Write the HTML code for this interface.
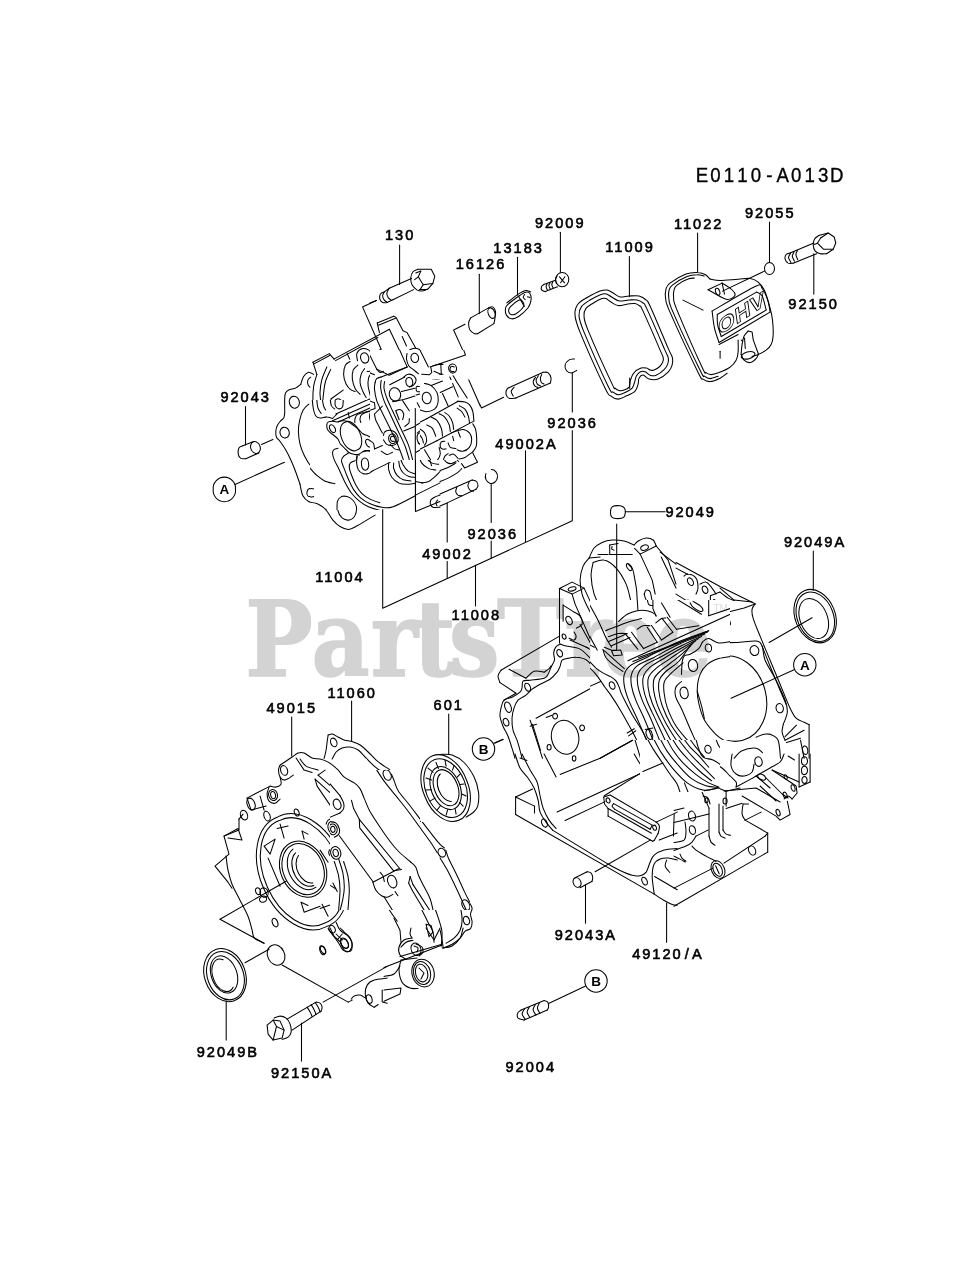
<!DOCTYPE html>
<html lang="en">
<head>
<meta charset="utf-8">
<title>E0110-A013D Cylinder/Crankcase parts diagram</title>
<style>
html,body{margin:0;padding:0;background:#fff}
body{width:979px;height:1280px;overflow:hidden}
svg{display:block;will-change:transform}
.wm{font-family:"Liberation Serif","DejaVu Serif",serif;font-weight:bold}
.lb{font-family:"Liberation Sans","DejaVu Sans",sans-serif;font-size:14.6px;letter-spacing:2px;fill:#000;stroke:#000;stroke-width:.6px}
.tt{font-family:"Liberation Sans","DejaVu Sans",sans-serif;font-size:20.5px;fill:#000;stroke:#000;stroke-width:.35px}
.cl{font-family:"Liberation Sans","DejaVu Sans",sans-serif;font-size:13.5px;font-weight:bold;text-anchor:middle;fill:#000}
.ln{fill:none;stroke:#000;stroke-width:1.05;stroke-linecap:round;stroke-linejoin:round}
</style>
</head>
<body>
<svg width="979" height="1280" viewBox="0 0 979 1280">
<rect width="979" height="1280" fill="#fff"/>
<g id="watermark" fill="#d3d3d3">
<text transform="scale(0.86 1)" font-family="'DejaVu Serif','Liberation Serif',serif" font-weight="bold" font-size="104.5" stroke="#d3d3d3" stroke-width="1.5" stroke-linejoin="round" y="676.3" x="285.1 362.3 431.2 481.0 522.1 577.9 656.4 700.0 761.6">PartsTree</text>
<text x="713.5" y="611.5" font-size="10" fill="#dcdcdc" font-family="'Liberation Sans',sans-serif">TM</text>
</g>
<clipPath id="cp-c1"><path clip-rule="evenodd" d="M0 0H979V1280H0ZM640 740V792H720V740ZM590 600V740H730V600Z"/></clipPath>
<g class="ln" id="c1" clip-path="url(#cp-c1)">
<path d="M589.1 558.1C589.9 556.4 591.9 550.7 594.1 548C596.3 545.4 599.1 543.8 602.1 542.4C605.1 541.1 608.5 540.3 612.1 540C615.8 539.8 620.5 540.2 624.1 541C627.8 541.9 632.5 544.4 634.2 545"/>
<path d="M634.2 545C634.8 544.4 636.2 542.2 638.2 541C640.2 539.9 643.7 538.2 646.2 538C648.7 537.9 651.5 538.7 653.2 540C654.8 541.4 655.7 545 656.2 546"/>
<path d="M648.3 546.3A4 2.4 -20 1 1 640.8 549A4 2.4 -20 1 1 648.3 546.3Z"/>
<path d="M656.2 546L640.2 554.1"/>
<path d="M640.2 554.1L634.6 548.4"/>
<path d="M609.7 545L609.7 554.5L632.2 554.5"/>
<path d="M598.1 554.5L608.1 554.5"/>
<path d="M612.1 546.4C612.1 546.9 611.4 548.4 611.7 549C612.1 549.6 613.7 549.9 614.1 550.1"/>
<path d="M609.7 545L618.1 543.6"/>
<path d="M589.1 558.1C588.1 559.4 584.6 562.4 583.1 566.1C581.6 569.7 580.3 575.4 580.1 580.1C579.9 584.8 580.8 589.4 582.1 594.1C583.4 598.8 585.8 603.4 588.1 608.1C590.4 612.8 593.6 618.1 596.1 622.1C598.6 626.1 602 630.5 603.1 632.1"/>
<path d="M593.1 562.5C592.8 564.7 590.9 570.8 591.1 576.1C591.3 581.3 592.3 588.4 594.1 594.1C595.9 599.8 599 605.6 602.1 610.1C605.3 614.6 611.3 619.3 613.1 621.1"/>
<path d="M593.1 562.5C594.9 562.1 600.3 559.1 604.1 560.1C608 561 612.5 564.1 616.1 568.1C619.8 572.1 623.7 578.7 626.1 584.1C628.5 589.4 629.8 597.4 630.6 600.1"/>
<path d="M628.1 564.1C628.9 564.9 631.5 566.7 632.6 569.1C633.6 571.4 633.9 574.6 634.6 578.1C635.2 581.6 636.1 585.8 636.6 590.1C637 594.4 637.2 601.8 637.4 604.1"/>
<path d="M630.8 565.9A2 4 -35 1 1 627.5 568.2A2 4 -35 1 1 630.8 565.9Z"/>
<path d="M589.1 558.1L600.1 557.1"/>
<path d="M640.2 554.1L652.2 580.1L655.2 594.1"/>
<path d="M644.2 594.1C644.5 595.1 645.2 598.4 646.2 600.1C647.2 601.8 649.5 603.4 650.2 604.1"/>
<path d="M644.2 594.1C644.5 593.4 645.2 590.4 646.2 590.1C647.2 589.8 649.1 589.8 650.2 592.1C651.2 594.4 652.2 602.1 652.6 604.1"/>
<path d="M660.2 552.1L676 564.1"/>
<path d="M656.2 546L668.2 560.1L676 584.1"/>
<path d="M661.2 557.1L676 588.1"/>
<path d="M559.5 588.5L572.1 582.1L584.1 588.1L572.1 594.1L559.5 588.5"/>
<path d="M559.5 588.5L559.5 643.1"/>
<path d="M572.1 594.1L575.1 604.1L597.1 654.2"/>
<path d="M584.1 588.1L602.5 628.1"/>
<path d="M576 587.9A4 2 -15 1 1 568.2 589.9A4 2 -15 1 1 576 587.9Z"/>
<path d="M563.1 605.1L563.1 621.1"/>
<path d="M563.1 605.1L574.1 612.1"/>
<path d="M571.6 619.3A2.8 4.4 -25 1 1 566.5 621.7A2.8 4.4 -25 1 1 571.6 619.3Z"/>
<path d="M565.8 635.9A1.8 2.6 -20 1 1 562.4 637.2A1.8 2.6 -20 1 1 565.8 635.9Z"/>
<path d="M574.1 612.1C575.1 612.8 578.8 614.1 580.1 616.1C581.4 618.1 582.7 622.1 582.1 624.1C581.5 626.1 577.4 627.5 576.5 628.1"/>
<path d="M580.1 624.5L595.7 652.6"/>
<path d="M586.1 647.1L595.7 652.6"/>
<path d="M569.1 638.1C569.9 638.5 572.9 640.5 574.1 640.1C575.3 639.8 576.1 637.5 576.1 636.1C576.1 634.8 574.4 632.8 574.1 632.1"/>
<path d="M570.1 640.1L588.1 648.1"/>
<path d="M560.1 644.1C559.3 644.6 556.7 645.6 555.7 647.1C554.6 648.6 553.9 651 553.7 653.2C553.5 655.3 554.9 657.8 554.5 660.2C554 662.5 552.1 664.8 551.1 667.2C550 669.5 549.2 672.3 548.1 674.2C546.9 676 547.1 677.2 544.1 678.2C541.1 679.2 533.6 679.7 530.1 680.2C526.5 680.7 524.4 679.8 523 681.2C521.7 682.5 522.5 686.4 522 688.2C521.5 690 521.7 690.7 520 692.2C518.4 693.7 514.7 695.9 512 697.2C509.4 698.5 505.9 698.4 504 700.2C502.2 702 501.7 705.5 501 708.2C500.4 710.9 499.7 713.2 500 716.2C500.4 719.2 501.7 722.9 503 726.2C504.4 729.6 506.5 732.6 508 736.2C509.5 739.9 510.9 744.6 512 748.2C513.2 751.9 514.5 756.6 515 758.3"/>
<path d="M568.1 658.2C567.1 658.5 563.4 658.8 562.1 660.2C560.7 661.5 560.9 664.2 560.1 666.2C559.2 668.2 558.7 670 557.1 672.2C555.4 674.3 552.9 677.2 550.1 679.2C547.2 681.2 543.1 682.5 540.1 684.2C537.1 685.9 534.4 687.4 532.1 689.2C529.7 691 528.4 693.4 526 695.2C523.7 697 520 698 518 700.2C516 702.4 515 705.2 514 708.2C513 711.2 512.2 714.5 512 718.2C511.9 721.9 512.2 726.6 513 730.2C513.9 733.9 515.9 736.9 517 740.2C518.2 743.6 519.2 747.2 520 750.3C520.9 753.3 521.7 756.9 522 758.3"/>
<path d="M568.1 658.2C569.4 658 573.1 656.9 576.1 657.2C579.1 657.4 583.1 657.9 586.1 659.8C589.1 661.6 591.4 665.4 594.1 668.2C596.8 670.9 599.5 674.2 602.1 676.2C604.8 678.2 607.6 679.3 610.1 680.2C612.6 681 615.5 679.8 617.1 681.2C618.8 682.5 619.6 687 620.1 688.2"/>
<path d="M560.1 644.1C561.1 644.5 562.7 645.3 566.1 646.1C569.4 647 575.8 646.8 580.1 649.1C584.4 651.5 588.8 656.7 592.1 660.2C595.4 663.7 597.5 667.5 600.1 670.2C602.8 672.8 606.8 675.2 608.1 676.2"/>
<path d="M562 652.1A2.6 3.6 -25 1 1 557.3 654.3A2.6 3.6 -25 1 1 562 652.1Z"/>
<path d="M530 686.1A2.6 4 -25 1 1 525.3 688.3A2.6 4 -25 1 1 530 686.1Z"/>
<path d="M510.8 706.2A3 4.8 -20 1 1 505.2 708.2A3 4.8 -20 1 1 510.8 706.2Z"/>
<path d="M508.5 721.3A2.6 4 -20 1 1 503.6 723.1A2.6 4 -20 1 1 508.5 721.3Z"/>
<path d="M614.5 684.7A2.6 4 -25 1 1 609.8 686.9A2.6 4 -25 1 1 614.5 684.7Z"/>
<path d="M559.5 636.1L501 670.2"/>
<path d="M501 670.2C500.5 671.2 498.2 674.1 498 676.2C497.9 678.2 499.7 681.5 500 682.6"/>
<path d="M500 682.6L516 693.2"/>
<path d="M509 669.2L526 678.2"/>
<path d="M526 678.2C527.4 677 531.1 672.2 534.1 671.2C537.1 670.2 542.4 672 544.1 672.2"/>
<path d="M544.1 672.2C544.9 671.6 547.9 669.6 549.1 668.6C550.2 667.5 550.7 666.2 551.1 665.8"/>
<path d="M504 700.2L516 693.2"/>
<path d="M676 645.1C673.4 646.3 666.2 649.3 660.2 652.2C654.2 655 645.5 659.2 640.2 662.2C634.8 665.2 630.8 667.5 628.1 670.2C625.5 672.8 624.5 674.5 624.1 678.2C623.8 681.8 624.1 685.2 626.1 692.2C628.1 699.2 632.2 709.2 636.2 720.2C640.2 731.2 647.8 751.9 650.2 758.3"/>
<path d="M676 649.1C673.4 650.5 665.5 654.3 660.2 657.2C654.9 660 648.5 663.3 644.2 666.2C639.8 669 636.3 671.5 634.2 674.2C632 676.8 631.2 678.2 631.2 682.2C631.2 686.2 631.7 690.2 634.2 698.2C636.7 706.2 642.5 720.2 646.2 730.2C649.8 740.2 654.5 753.6 656.2 758.3"/>
<path d="M676 654.2C673.7 655.3 666.8 658.5 662.2 661.2C657.5 663.8 651.8 667.3 648.2 670.2C644.5 673 641.8 675.2 640.2 678.2C638.5 681.2 637.8 683.5 638.2 688.2C638.5 692.9 639.8 699.2 642.2 706.2C644.5 713.2 648.8 721.6 652.2 730.2C655.5 738.9 660.5 753.6 662.2 758.3"/>
<path d="M676 659.2C674 660.2 668.2 662.7 664.2 665.2C660.2 667.7 655.2 671.3 652.2 674.2C649.2 677 647.3 679.2 646.2 682.2C645 685.2 644.7 687.5 645.2 692.2C645.7 696.9 647 703.5 649.2 710.2C651.3 716.9 655.2 724.2 658.2 732.2C661.2 740.2 665.7 753.9 667.2 758.3"/>
<path d="M676 664.2C674.4 665.2 669.5 667.8 666.2 670.2C662.9 672.5 658.5 675.5 656.2 678.2C653.8 680.8 652.9 683.2 652.2 686.2C651.4 689.2 651.3 691.9 651.8 696.2C652.3 700.5 653.1 705.9 655.2 712.2C657.2 718.6 661.3 726.6 664.2 734.2C667 741.9 670.9 754.3 672.2 758.3"/>
<path d="M676 670.2C674.7 671 670.7 673.2 668.2 675.2C665.7 677.2 662.8 679.7 661.2 682.2C659.5 684.7 658.7 687.2 658.2 690.2C657.7 693.2 657.7 696.2 658.2 700.2C658.7 704.2 659.3 708.5 661.2 714.2C663 719.9 666.5 727.9 669.2 734.2C671.9 740.6 675.9 749.2 677.2 752.3"/>
<path d="M676 676.2C675 677 671.8 679.2 670.2 681.2C668.6 683.2 667 685.4 666.2 688.2C665.4 691 665 694.2 665.2 698.2C665.4 702.2 665.2 706.4 667.2 712.2C669.2 718.1 675.5 729.7 677.2 733.2"/>
<path d="M676 684.2C675.4 685.2 673.2 687.5 672.6 690.2C672 692.9 671.4 695.9 672.2 700.2C673 704.5 676.4 713.5 677.2 716.2"/>
<path d="M611.1 650.2L620.1 650.2L620.1 655.4L611.1 655.4L611.1 650.2"/>
<path d="M602.5 649.1C603.5 650.7 605.2 655.3 608.1 658.2C611.1 661 617 664.1 620.1 666.2C623.3 668.2 626 669.8 627.1 670.6"/>
<path d="M604.1 648.1L620.1 640.5"/>
<path d="M605.1 652.2L610.1 649.7"/>
<path d="M620.1 620.1C622.1 619.2 628.1 615.8 632.2 614.5C636.2 613.2 640.8 611.8 644.2 612.1C647.6 612.4 651.2 615.4 652.6 616.1"/>
<path d="M652.6 616.1L676 629.1"/>
<path d="M628.1 628.1L640.2 650.2"/>
<path d="M636.2 624.1L650.2 644.5"/>
<path d="M608.1 628.1L624.1 620.5"/>
<path d="M610.1 634.5L620.5 630.1"/>
<path d="M608.1 640.5L624.5 632.5"/>
<path d="M620.1 640.5L632.2 636.1L640.2 650.2L628.1 658.2"/>
<path d="M632.2 616.1L652.2 640.1L676 628.1"/>
<path d="M644.2 620.1L660.2 638.1"/>
<path d="M628.1 658.2L676 638.1"/>
<path d="M630.2 662.2L676 641.1"/>
<path d="M536.1 718.2L600.1 683.2"/>
<path d="M600.1 683.2L608.1 692.6"/>
<path d="M608.1 692.6L632.6 732.2"/>
<path d="M530.1 720.2L542.5 758.3"/>
<path d="M532.5 724.2L540.5 750.3"/>
<path d="M530.1 726.2L536.5 724.2"/>
<path d="M578.4 734.4A13.6 17 -12 1 1 551.8 740.1A13.6 17 -12 1 1 578.4 734.4Z"/>
<path d="M557.5 716.2A2.4 2.8 0 1 1 552.7 716.2A2.4 2.8 0 1 1 557.5 716.2Z"/>
<path d="M584.5 727.8A2.4 2.8 0 1 1 579.7 727.8A2.4 2.8 0 1 1 584.5 727.8Z"/>
<path d="M551.1 747.2A2 2.8 0 1 1 547.1 747.2A2 2.8 0 1 1 551.1 747.2Z"/>
<path d="M546.1 717.4L552.1 715.2"/>
<path d="M600.1 758.3L632.6 740.2"/>
<path d="M626.1 732.6L634.6 730.2"/>
<path d="M632.6 732.2L640.6 758.3"/>
<path d="M651.7 734.7A2.8 5 -25 1 1 646.6 737A2.8 5 -25 1 1 651.7 734.7Z"/>
<path d="M644.2 730.2L654.2 728.2"/>
<path d="M646.2 742.2L656.2 740.2"/>
<path d="M606.1 692.2L608.1 698.2"/>
<path d="M494 743.2L503 739.2"/>
</g>
<clipPath id="cp-c2"><path clip-rule="evenodd" d="M0 0H979V1280H0ZM640 740V792H720V740ZM590 600V740H730V600Z"/></clipPath>
<g class="ln" id="c2" clip-path="url(#cp-c2)">
<path d="M813.3 551.1L813.3 590.1"/>
<path d="M833.7 608.6A20 27.6 -22 1 1 796.6 623.6A20 27.6 -22 1 1 833.7 608.6Z"/>
<path d="M832 610A18 25.6 -22 1 1 798.6 623.5A18 25.6 -22 1 1 832 610Z"/>
<path d="M826.4 613.4A13.6 20.8 -22 1 1 801.1 623.6A13.6 20.8 -22 1 1 826.4 613.4Z"/>
<path d="M812.1 617.7L769.1 642.5"/>
<path d="M794.1 669.8L731.1 698.2"/>
<path d="M764.9 689.7A34.4 43.2 -15 1 1 698.4 707.5A34.4 43.2 -15 1 1 764.9 689.7Z"/>
<path d="M685 655.2C686.8 653.5 692.5 647.8 696 645.1C699.5 642.5 702.4 639.6 706 639.1C709.7 638.6 713 641.6 718 642.1C723 642.7 729.7 642.7 736.1 642.5C742.4 642.4 751.7 640.5 756.1 641.1C760.4 641.7 760.6 643 762.1 646.1C763.6 649.3 762.8 654.5 765.1 660.2C767.4 665.8 772.8 673.5 776.1 680.2C779.4 686.9 783.2 694.9 785.1 700.2C787 705.5 787.6 708.2 787.3 712.2C787 716.2 784 722.2 783.3 724.2"/>
<path d="M685 655.2C684.7 657.7 683.5 666 683 670.2C682.5 674.3 683.2 677.3 682 680.2C680.8 683 677 686 676 687.2"/>
<path d="M711.5 647.3A3.2 4 -15 1 1 705.3 649A3.2 4 -15 1 1 711.5 647.3Z"/>
<path d="M758.7 649.4A4.4 5 -15 1 1 750.2 651.7A4.4 5 -15 1 1 758.7 649.4Z"/>
<path d="M697.3 664.6A4.4 5.2 -15 1 1 688.8 666.9A4.4 5.2 -15 1 1 697.3 664.6Z"/>
<path d="M687.9 692.8A4 5 -15 1 1 680.1 694.8A4 5 -15 1 1 687.9 692.8Z"/>
<path d="M783.2 707.3A3.6 4.6 -15 1 1 776.2 709.1A3.6 4.6 -15 1 1 783.2 707.3Z"/>
<path d="M710.9 748.5A3 3.6 -15 1 1 705.1 750A3 3.6 -15 1 1 710.9 748.5Z"/>
<path d="M698.4 660.2C699.7 659.8 705.4 656.5 706 658.2C706.6 659.8 702.7 668.2 702 670.2"/>
<path d="M755.1 604.1C754.6 604.9 752.4 606.8 752.1 609.1C751.7 611.4 751.7 613.6 753.1 618.1C754.4 622.6 757.2 629.1 760.1 636.1C762.9 643.1 766.8 652.2 770.1 660.2C773.4 668.2 776.8 676.2 780.1 684.2C783.4 692.2 787.4 702.5 790.1 708.2C792.8 713.9 793.8 715.9 796.1 718.2C798.5 720.6 802 721.2 804.1 722.2C806.3 723.3 808.3 724.2 809.1 724.6"/>
<path d="M809.1 724.6L809.1 758.3"/>
<path d="M762.1 646.1C763.4 649.5 767.1 658.8 770.1 666.2C773.1 673.5 777.4 683.9 780.1 690.2C782.8 696.5 785.1 701.9 786.1 704.2"/>
<path d="M676 562.5L720 586.5L755.1 603.7"/>
<path d="M676 568.1L688 574.5"/>
<path d="M692.7 580.4A2.6 4 -30 1 1 688.2 583A2.6 4 -30 1 1 692.7 580.4Z"/>
<path d="M707.4 588.6A2.6 3.6 -25 1 1 702.7 590.8A2.6 3.6 -25 1 1 707.4 588.6Z"/>
<path d="M715.8 602.3A1.4 2.4 -10 1 1 713.1 602.7A1.4 2.4 -10 1 1 715.8 602.3Z"/>
<path d="M684 576.1C684.7 575.7 686 573.7 688 574.1C690 574.4 694.4 575.7 696 578.1C697.7 580.4 698 585.4 698 588.1C698 590.8 696.4 593.1 696 594.1"/>
<path d="M700 584.1C701 583.8 704 581.4 706 582.1C708 582.7 710.4 586.1 712 588.1C713.7 590.1 715.4 593.1 716 594.1"/>
<path d="M710.4 595.7L710.4 616.5"/>
<path d="M710.4 595.7L720 592.1"/>
<path d="M720 592.1C721.4 593.1 725.6 596.7 728.1 598.1C730.5 599.5 733.4 600.1 734.5 600.5"/>
<path d="M710.4 616.5L744.1 608.1L755.1 604.1"/>
<path d="M720 588.1L734.1 600.1L752.1 602.1"/>
<path d="M676 630.1L728.1 617.1"/>
<path d="M676 625.3L706 618.1"/>
<path d="M728.1 617.1C728.5 618.3 730.8 622.3 730.5 624.1C730.1 626 726.8 627.5 726.1 628.1"/>
<path d="M676 648.5L726.1 627.3"/>
<path d="M676 649.7L724 629.3"/>
<path d="M676 644.1L702 633.3"/>
<path d="M688 600.1C687.7 600.5 685.9 601.6 686 602.5C686.1 603.4 688 604.8 688.4 605.3"/>
<path d="M688 600.1L702 608.1"/>
<path d="M688.4 605.3L702 612.5"/>
<path d="M676 594.1L710 615.1"/>
<path d="M785.1 740.2L804.1 730.2"/>
<path d="M785.1 736.6L796.5 725.2"/>
<path d="M786.5 742.6L800.5 738.2"/>
<path d="M807.7 749.8A2.6 4 -10 1 1 802.6 750.7A2.6 4 -10 1 1 807.7 749.8Z"/>
<path d="M783.3 724.2C783.1 725.6 781.8 729.6 782.1 732.2C782.4 734.9 784.6 738.9 785.1 740.2"/>
<path d="M800.5 740.2L804.1 758.3"/>
<path d="M734.1 758.3C735.4 757 738.4 752.3 742.1 750.7C745.7 749 752.7 747.9 756.1 748.2C759.5 748.6 761.4 751.9 762.5 752.7"/>
<path d="M770.1 734.2C771.4 735.2 776.4 736.2 778.1 740.2C779.8 744.2 780.1 755.3 780.5 758.3"/>
<path d="M676 728.2L684.4 758.3"/>
<path d="M680.4 726.2L688.4 758.3"/>
<path d="M698.4 758.3C698.8 756.6 699.5 750.6 700.4 748.2C701.4 745.9 703.4 744.9 704 744.2"/>
<path d="M756.1 737.2C757.4 736.7 761.8 734.7 764.1 734.2C766.4 733.7 769.1 734.2 770.1 734.2"/>
</g>
<clipPath id="cp-c3"><path clip-rule="evenodd" d="M0 0H979V1280H0ZM640 740V792H720V740Z"/></clipPath>
<g class="ln" id="c3" clip-path="url(#cp-c3)">
<path d="M515 754C515.9 756.3 517.9 764 520 768C522.2 772 525.7 774.7 528 778C530.4 781.4 532.4 784.4 534.1 788C535.7 791.7 537.1 796 538.1 800C539.1 804 538.7 808.4 540.1 812.1C541.4 815.7 544 819.1 546.1 822.1C548.1 825.1 551.4 828.7 552.5 830.1"/>
<path d="M522 754C523.4 756.7 527.5 765.3 530.1 770C532.6 774.7 535.4 777.7 537.1 782C538.7 786.4 539.1 791.7 540.1 796C541.1 800.4 541.6 804 543.1 808.1C544.6 812.1 546.9 816.7 549.1 820.1C551.2 823.5 554.9 827.1 556.1 828.5"/>
<path d="M552.5 830.1L608.1 864.1"/>
<path d="M608.1 864.1C610.1 865.2 616.1 868.6 620.1 870.5C624.1 872.4 628.8 874.5 632.2 875.3C635.5 876.2 637.8 876.3 640.2 875.7C642.5 875.2 644.5 874.4 646.2 872.1C647.8 869.8 648.8 864.9 650.2 862.1C651.5 859.3 651.8 857.1 654.2 855.1C656.5 853.1 660.3 851.2 664.2 850.1C668 849 675 848.8 677.2 848.5"/>
<path d="M546.8 822A2.6 4 -25 1 1 542.1 824.2A2.6 4 -25 1 1 546.8 822Z"/>
<path d="M646.7 880.1A2.4 3.6 -25 1 1 642.4 882.1A2.4 3.6 -25 1 1 646.7 880.1Z"/>
<path d="M515.6 797L532.5 789"/>
<path d="M515.6 797L515.6 814.5"/>
<path d="M515.6 797L534.5 806.1"/>
<path d="M534.5 806.1L534.5 813.1"/>
<path d="M515.6 814.5L654.2 894.1"/>
<path d="M654.2 894.1C655.8 895.2 661.2 898.8 664.2 900.5C667.2 902.3 670 903.7 672.2 904.5C674.4 905.3 676.4 905.2 677.2 905.3"/>
<path d="M654.2 894.1C653.8 891.1 652.2 881.1 652.2 876.1C652.2 871.1 652.8 866.9 654.2 864.1C655.5 861.3 657.8 860.1 660.2 859.1C662.5 858.1 665.4 857.9 668.2 858.1C671 858.3 675.7 859.8 677.2 860.1"/>
<path d="M654.6 876.5L677.2 889.7"/>
<path d="M666.6 860.1C666.4 861.1 664.7 864 665.2 866.1C665.7 868.2 669 871.4 669.8 872.5"/>
<path d="M557.1 812.1L661.2 764"/>
<path d="M565.1 820.5L605.1 801.6"/>
<path d="M560.1 774.4L600.1 758.2L632.6 740.2"/>
<path d="M544.1 754L556.1 777"/>
<path d="M575.9 758.4A1.8 2.6 0 1 1 572.3 758.4A1.8 2.6 0 1 1 575.9 758.4Z"/>
<path d="M520 758L527 760.4"/>
<path d="M603.7 797L610.1 795L656.2 822.1"/>
<path d="M656.2 822.1C656.7 822.7 659 824.2 659.4 826.1C659.7 827.9 658.4 832.1 658.2 833.3"/>
<path d="M658.2 833.3L654.2 840.5"/>
<path d="M603.7 797L604.5 804L608.1 808.5"/>
<path d="M608.1 808.5L608.1 816.1"/>
<path d="M608.1 816.1L652.6 841.3"/>
<path d="M608.1 808.5L651.4 833.3"/>
<path d="M613.7 803.6L652.2 825.1"/>
<path d="M614.5 809.1L650.2 829.3"/>
<path d="M613.7 803.6C613.5 804 612 805.1 612.1 806.1C612.3 807 614.1 808.6 614.5 809.1"/>
<path d="M650.2 829.3L652.2 825.1"/>
<path d="M609.8 799.8A1.8 2.6 -20 1 1 606.4 801.1A1.8 2.6 -20 1 1 609.8 799.8Z"/>
<path d="M656.3 827.1A1.8 2.6 -20 1 1 652.9 828.3A1.8 2.6 -20 1 1 656.3 827.1Z"/>
<path d="M652.6 841.3L654.2 840.5"/>
<path d="M595.1 871.7L650.2 840.1"/>
<path d="M580.5 880.9A3.8 5 -25 1 1 573.6 884.1A3.8 5 -25 1 1 580.5 880.9Z"/>
<path d="M575.1 877.7L587.1 871.7"/>
<path d="M580.1 887.7L592.1 881.3"/>
<path d="M587.1 871.7C587.8 871.9 590.2 872.2 591.1 873.1C592 874 592.5 875.8 592.7 877.1C592.9 878.5 592.2 880.6 592.1 881.3"/>
<path d="M585.5 885.1L585.5 923.2"/>
<path d="M666.6 903.1L666.6 942.2"/>
<path d="M585.1 986.2L549.1 1003.2"/>
<path d="M634.2 754C635.2 755.7 638.1 761.3 640.2 764C642.2 766.7 645.5 769 646.6 770"/>
<path d="M646.6 770L661.2 764"/>
<path d="M660.2 754C660.8 755.7 661.3 759.7 664.2 764C667 768.3 675 777.4 677.2 780"/>
<path d="M656.2 822.1L677.2 812.1"/>
<path d="M659.2 840.1L677.2 833.1"/>
<path d="M674.2 814.1L673.4 836.1"/>
<path d="M604.3 795.8L640.2 773.4"/>
</g>
<clipPath id="cp-c4"><path clip-rule="evenodd" d="M0 0H979V1280H0ZM640 740V792H720V740Z"/></clipPath>
<g class="ln" id="c4" clip-path="url(#cp-c4)">
<path d="M674 888.1L713 868.1"/>
<path d="M724 863.1L765.1 836.1"/>
<path d="M767.7 833.1L767.7 852.1"/>
<path d="M674 906.2L767.7 852.1"/>
<path d="M745.1 820.1L767.7 833.1"/>
<path d="M765.1 836.1L767.7 833.1"/>
<path d="M743.1 804C742.9 805.7 741.7 811.4 742.1 814.1C742.4 816.7 744.6 819.1 745.1 820.1"/>
<path d="M745.1 820.1L761.1 812.1"/>
<path d="M743.1 804L748.5 804"/>
<path d="M755.2 849.1A3.4 4.8 -25 1 1 749 851.9A3.4 4.8 -25 1 1 755.2 849.1Z"/>
<path d="M723.8 866.8A6.4 9 -25 1 1 712.2 872.2A6.4 9 -25 1 1 723.8 866.8Z"/>
<path d="M721.5 867.9A4.2 6.8 -25 1 1 713.8 871.5A4.2 6.8 -25 1 1 721.5 867.9Z"/>
<path d="M715.6 865.7L719.2 873.7"/>
<path d="M724 791L756.1 788L780.1 802"/>
<path d="M726.1 808.5L742.1 803.2"/>
<path d="M742.1 796L776.1 816.1L780.1 820.1L790.1 814.5L787.3 801.2"/>
<path d="M784.1 799C784.8 798.5 786.8 796 788.1 796C789.4 796 791.4 798.5 792.1 799"/>
<path d="M766.1 778L782.1 794L788.1 798"/>
<path d="M772.1 770L796.1 786L797.1 793L792.1 799"/>
<path d="M779.8 812A1.8 3.4 -20 1 1 776.4 813.3A1.8 3.4 -20 1 1 779.8 812Z"/>
<path d="M786.8 794.4A1.8 3 -20 1 1 783.4 795.7A1.8 3 -20 1 1 786.8 794.4Z"/>
<path d="M794.8 787.4A1.8 3.4 -20 1 1 791.4 788.6A1.8 3.4 -20 1 1 794.8 787.4Z"/>
<path d="M787 776.5A1.4 2.2 -20 1 1 784.4 777.5A1.4 2.2 -20 1 1 787 776.5Z"/>
<path d="M760.1 786L776.1 801"/>
<path d="M756.1 776L770.1 788"/>
<path d="M799.1 754L799.1 787"/>
<path d="M810.1 754L810.1 782"/>
<path d="M799.1 787L810.1 782"/>
<path d="M807.5 761A3 4.2 0 1 1 801.5 761A3 4.2 0 1 1 807.5 761Z"/>
<path d="M807.5 770.4A3 4.2 0 1 1 801.5 770.4A3 4.2 0 1 1 807.5 770.4Z"/>
<path d="M807.1 780A2.6 3.4 0 1 1 801.9 780A2.6 3.4 0 1 1 807.1 780Z"/>
<path d="M772.1 770L799.1 782"/>
<path d="M788.1 756L794.5 760"/>
<path d="M762 760.7A3.6 4.8 -15 1 1 755 762.5A3.6 4.8 -15 1 1 762 760.7Z"/>
<path d="M732.1 754C731.9 756 730.4 762.7 731.1 766C731.7 769.3 733.9 772.3 736.1 774C738.2 775.7 741.4 776.4 744.1 776C746.7 775.7 750.4 774 752.1 772C753.7 770 753.7 765.3 754.1 764"/>
<path d="M784.1 754C783.4 755.3 782.4 759.7 780.1 762C777.8 764.3 774.1 765.7 770.1 768C766.1 770.3 759.1 774.3 756.1 776C753.1 777.8 752.7 778 752.1 778.4"/>
<path d="M763 774.8A2.6 4.2 -60 1 1 760.4 779.3A2.6 4.2 -60 1 1 763 774.8Z"/>
<path d="M736.1 787L752.1 778.4"/>
<path d="M702 754C703.7 755.3 708.7 759.7 712 762C715.4 764.3 719 765.7 722 768C725 770.3 727.7 773.7 730.1 776C732.4 778.4 735.1 780.2 736.1 782C737.1 783.9 736.1 786.2 736.1 787"/>
<path d="M674 774C676.3 775.4 683.3 780 688 782C692.7 784 697 785 702 786C707 787 715.4 787.7 718 788"/>
<path d="M674 784C676 784.7 681.7 787 686 788C690.3 789 695 789.8 700 790C705 790.2 713.4 789.4 716 789.2"/>
<path d="M674 764C676.3 765.7 683.3 771 688 774C692.7 777 697.4 780 702 782C706.7 784 713.7 785.4 716 786"/>
<path d="M718 788L726.1 791.2"/>
<path d="M702 792L709 808.1"/>
<path d="M703 796C703.9 796.4 706.9 796.7 708 798C709.2 799.4 709.7 803 710 804"/>
<path d="M708 800.4A1.6 2.4 0 1 1 704.8 800.4A1.6 2.4 0 1 1 708 800.4Z"/>
<path d="M709 808.1L709 836.1"/>
<path d="M709 836.1C709.4 837.1 710 840.6 711 842.1C712 843.6 714.4 844.8 715 845.3"/>
<path d="M719 804L719 832.1"/>
<path d="M719 832.1C719.4 832.7 720 835.1 721 836.1C722.1 837.1 724.5 837.7 725.2 838.1"/>
<path d="M723 806.1L723 830.1"/>
<path d="M723 830.1C723.5 830.7 724.8 833.2 726.1 834.1C727.3 834.9 729.7 835.1 730.5 835.3"/>
<path d="M727.1 801A2 3 0 1 1 723 801A2 3 0 1 1 727.1 801Z"/>
<path d="M726.1 791.2L726.1 806.1"/>
<path d="M726.1 791.2L740.1 788"/>
<path d="M674 810.5L684 808.1"/>
<path d="M695.3 815.2A3.4 5 -15 1 1 688.7 816.9A3.4 5 -15 1 1 695.3 815.2Z"/>
<path d="M695.3 829.3A3 4.4 -15 1 1 689.5 830.9A3 4.4 -15 1 1 695.3 829.3Z"/>
<path d="M674 822.5L709 814.1"/>
<path d="M696 836.1L708 830.1"/>
<path d="M674 842.5C675.7 842.1 682 841.8 684 840.1C686 838.3 685.8 835.1 686 832.1C686.2 829.1 685.2 823.7 685 822.1"/>
<path d="M674 850.5C676 849.8 683 847.5 686 846.1C689 844.7 690.3 843.8 692 842.1C693.7 840.4 695.4 837.1 696 836.1"/>
<path d="M674 856.1C675 856.6 678.1 858.1 680 859.1C681.9 860.1 684.3 861.6 685.2 862.1"/>
<path d="M692 846.1C692.7 846.8 693.7 848.4 696 850.1C698.4 851.8 702.7 854.2 706 856.1C709.4 858 714.4 860.4 716 861.3"/>
<path d="M680 854.1C680.3 854.8 681 856.9 682 858.1C683 859.3 685.3 860.8 686 861.3"/>
</g>
<clipPath id="cp-cf"><path clip-rule="evenodd" d="M640 740H720V792H640Z"/></clipPath>
<g class="ln" id="cf" clip-path="url(#cp-cf)">
<path d="M653.6 738.6C654.9 741 658.3 747.9 661.5 752.9C664.7 757.9 668.7 763.6 672.9 768.6C677.2 773.6 682.2 779.3 687.2 782.9C692.2 786.5 698.2 789.1 703 790.1C707.7 791 713.7 788.9 715.8 788.6"/>
<path d="M660.1 738.6C661.3 740.7 664.1 746.9 667.2 751.4C670.3 756 674.6 761.2 678.7 765.7C682.7 770.3 687 775.3 691.5 778.6C696.1 781.9 701.4 784.3 705.8 785.8C710.2 787.2 716 787.2 718 787.5"/>
<path d="M666.5 738.6C667.6 740.5 670.2 746 672.9 750C675.7 754.1 679.1 758.8 683 762.9C686.8 766.9 691.5 771 695.8 774.3C700.1 777.7 704.9 780.8 708.7 782.9C712.5 785 717 786.2 718.7 786.9"/>
<path d="M672.2 738.6C673.3 740.2 675.9 745 678.7 748.6C681.4 752.2 685.1 756.2 688.7 760C692.2 763.8 696.3 768 700.1 771.5C703.9 774.9 709.6 779.2 711.6 780.8"/>
<path d="M677.9 738.6C679 740 681.9 744.1 684.4 747.2C686.9 750.2 689.6 753.6 693 757.2C696.3 760.7 700.8 765 704.4 768.6C708 772.2 712.7 776.9 714.4 778.6"/>
<path d="M683.7 738.6C684.7 740 687.6 744.3 690.1 747.2C692.6 750 695.6 752.4 698.7 755.7C701.8 759.1 707 765.3 708.7 767.2"/>
<path d="M689.4 738.6C690.5 740 693.3 744.1 695.8 747.2C698.3 750.2 703 755.5 704.4 757.2"/>
<path d="M647.2 738.6C648.2 740.2 650.5 744.8 652.9 748.6C655.3 752.4 658.6 757.2 661.5 761.5C664.4 765.7 667.5 770.5 670.1 774.3C672.7 778.1 675.3 780.5 677.2 784.3C679.1 788.1 680.8 795.1 681.5 797.2"/>
<path d="M684.4 782.9C685.3 785.3 688.2 792.4 690.1 797.2C692 802 694.9 809.1 695.8 811.5"/>
<path d="M711.1 748.7A3.1 4 -10 1 1 704.9 749.8A3.1 4 -10 1 1 711.1 748.7Z"/>
<path d="M695.8 738.6C696.3 740.2 697.5 745.5 698.7 748.6C699.9 751.7 700.6 755.3 703 757.2C705.4 759.1 709.9 758.6 713 760C716.1 761.5 719.2 763.4 721.6 765.7C723.9 768.1 725.7 771.5 727.3 774.3C728.8 777.2 730.3 781.5 730.9 782.9"/>
<path d="M715.8 738.6C716.3 739.8 717.3 743.6 718.7 745.7C720.1 747.9 722.4 750 724.4 751.4C726.4 752.9 729.8 753.8 730.9 754.3"/>
<path d="M642.9 771.5L662.9 762.9"/>
<path d="M704.4 790.8L718.7 787.9"/>
<path d="M718.7 787.9L730.9 792.9"/>
</g>
<clipPath id="cp-cm"><path clip-rule="evenodd" d="M590 600H730V740H590Z"/></clipPath>
<g class="ln" id="cm" clip-path="url(#cp-cm)">
<path d="M611.5 650.8L620.7 650.1L622.2 655.1L613.6 655.8L611.5 650.8"/>
<path d="M625.8 634.3L637.9 649.3"/>
<path d="M631.5 632.2L643.6 648.6"/>
<path d="M647.2 627.2L657.2 642.2"/>
<path d="M651.5 625.5L661.5 640"/>
<path d="M662.2 618.6L672.9 632.2"/>
<path d="M667.2 617.2L676.5 629.3"/>
<path d="M605.7 630.7C607.9 629.9 614.5 627.3 618.6 625.7C622.7 624.2 626.2 622.6 630 621.5C633.9 620.3 639.6 619.1 641.5 618.6"/>
<path d="M608.6 636.5C610.3 636 615.5 634.1 618.6 633.6C621.7 633.1 625.8 633.6 627.2 633.6"/>
<path d="M637.2 629.3C638.1 628.7 640.8 626.3 642.9 625.7C645.1 625.1 648.9 625.7 650.1 625.7"/>
<path d="M655.8 622.9C656.7 622.2 659.8 619.4 661.5 618.6C663.2 617.8 665.1 618 665.8 617.9"/>
<path d="M643.6 648.6L657.2 642.2"/>
<path d="M661.5 640L672.9 632.2"/>
<path d="M676.5 629.3L698.7 625.7"/>
<path d="M618.6 621.5C620 620.3 624.1 616.1 627.2 614.3C630.3 612.5 633.9 611.3 637.2 610.7C640.5 610.1 644.3 610.2 647.2 610.7C650.1 611.2 652.9 612.7 654.4 613.6C655.8 614.5 655.8 615.6 656.1 616"/>
<path d="M652.9 598.6L652.9 608.6L656.1 616"/>
<path d="M637.2 598.6L637.9 610"/>
<path d="M647.2 598.6C647.4 599.5 647.7 603.1 648.6 604.3C649.6 605.5 652.2 605.5 652.9 605.7"/>
<path d="M602.9 649.3C603.3 650.6 604.1 654.7 605.7 657.2C607.4 659.7 610 662 612.9 664.4C615.7 666.7 621.2 670.3 622.9 671.5"/>
<path d="M604.3 647.2C605.5 647.7 609.4 649.6 611.5 650.1C613.5 650.5 615.6 650.1 616.5 650.1"/>
<path d="M603.6 650.1L624.3 668.6"/>
<path d="M588.6 634.3L597.2 650.1"/>
<path d="M588.6 644.3L594.3 647.2"/>
<path d="M588.6 602.9C590.2 606 595.7 615.7 598.6 621.5C601.4 627.2 603.6 632.9 605.7 637.2C607.9 641.5 610.5 645.5 611.5 647.2"/>
<path d="M608.6 641.5L625.8 634.3"/>
<path d="M611.5 645.8L630 637.5"/>
<path d="M627.9 660.8L730.9 614"/>
<path d="M632.9 661.5L708.7 630.7"/>
<path d="M638.6 657.5L707.3 632.3"/>
<path d="M708.7 630.7C703.2 632.8 686 638.5 675.8 642.9C665.6 647.3 654.8 653.4 647.2 657.2C639.6 661 633.9 662.9 630 665.8C626.2 668.6 625.3 671 624.3 674.4C623.4 677.7 623.6 681.5 624.3 685.8C625 690.1 626.5 694.6 628.6 700.1C630.8 705.6 634.1 711.8 637.2 718.7C640.3 725.6 645.5 737.8 647.2 741.6"/>
<path d="M704.4 634.3C700.1 636 687 640.5 678.7 644.3C670.3 648.1 661.3 653.6 654.4 657.2C647.4 660.8 641 662.9 637.2 665.8C633.4 668.6 632.4 671 631.5 674.4C630.5 677.7 630.8 681.5 631.5 685.8C632.2 690.1 633.6 694.6 635.8 700.1C637.9 705.6 641.4 711.8 644.3 718.7C647.3 725.6 652.1 737.8 653.6 741.6"/>
<path d="M701.5 636.5C698.2 638 688.4 642.3 681.5 645.8C674.6 649.2 666.3 653.9 660.1 657.2C653.9 660.5 648 662.9 644.3 665.8C640.6 668.6 639 671 637.9 674.4C636.8 677.7 637.2 681.5 637.9 685.8C638.6 690.1 640.1 694.6 642.2 700.1C644.3 705.6 647.8 711.8 650.8 718.7C653.8 725.6 658.5 737.8 660.1 741.6"/>
<path d="M698.7 638.6C696.3 639.9 689.9 643.4 684.4 646.5C678.9 649.6 671.5 653.7 665.8 657.2C660.1 660.7 653.8 664.1 650.1 667.2C646.4 670.3 644.8 672.5 643.6 675.8C642.5 679.1 642.6 682.9 643.2 687.2C643.8 691.5 645.1 696 647.2 701.5C649.3 707 652.7 713.4 655.8 720.1C658.9 726.8 664.1 738 665.8 741.6"/>
<path d="M695.8 640.8C694.2 641.9 690.1 644.9 685.8 647.9C681.5 650.9 675.1 655.2 670.1 658.6C665.1 662.1 659.4 665.5 655.8 668.6C652.2 671.7 649.9 673.9 648.6 677.2C647.4 680.6 647.7 684.4 648.3 688.7C648.9 693 650.1 697.5 652.2 703C654.3 708.4 657.6 715.1 660.8 721.6C664 728 669.7 738.2 671.5 741.6"/>
<path d="M693 642.9C692 644 690.3 646.5 687.2 649.3C684.1 652.2 678.7 656.6 674.4 660.1C670.1 663.5 664.9 667 661.5 670.1C658.1 673.2 655.4 675.3 654.1 678.7C652.8 682 653.1 685.8 653.6 690.1C654.2 694.4 655.2 698.9 657.2 704.4C659.2 709.9 662.5 716.8 665.8 723C669.1 729.2 675.3 738.5 677.2 741.6"/>
<path d="M690.1 645.8C688.2 648.4 682.7 657.2 678.7 661.5C674.6 665.8 669 668.4 665.8 671.5C662.6 674.6 660.5 676.7 659.4 680.1C658.2 683.4 658.4 687.2 658.9 691.5C659.4 695.8 660.2 700.3 662.2 705.8C664.2 711.3 667.3 718.5 670.8 724.4C674.3 730.4 680.9 738.7 683 741.6"/>
<path d="M683 662.9C681 664.6 674.6 669.8 671.5 672.9C668.4 676 665.6 678.2 664.4 681.5C663.1 684.8 663.6 688.7 664.1 693C664.6 697.2 665.3 701.8 667.2 707.3C669.2 712.7 672.2 720.1 675.8 725.8C679.4 731.6 686.5 738.9 688.7 741.6"/>
<path d="M730.9 641.5C728.8 641.7 722.4 643.4 718.7 642.9C715 642.4 711.3 638.8 708.7 638.6C706.1 638.4 704.6 639.8 703 641.5C701.3 643.1 700.8 646.5 698.7 648.6C696.5 650.8 692.5 653.1 690.1 654.3C687.7 655.5 685.7 654.6 684.4 655.8C683.1 657 682.7 658.4 682.2 661.5C681.8 664.6 681.6 672.2 681.5 674.4"/>
<path d="M681.5 681.5C680.6 682.5 676.8 684.6 675.8 687.2C674.8 689.9 674.8 693.7 675.8 697.2C676.8 700.8 679.1 703.4 681.5 708.7C683.9 713.9 687.7 723.2 690.1 728.7C692.5 734.2 694.9 739.4 695.8 741.6"/>
<path d="M730.9 656.5C728.8 656.8 722.6 657.3 718.7 658.6C714.8 659.9 710.4 661.7 707.3 664.4C704.2 667 701.8 670.3 700.1 674.4C698.4 678.4 697.5 683.9 697.3 688.7C697 693.4 697.5 697.7 698.7 703C699.9 708.2 701.5 714.9 704.4 720.1C707.3 725.4 712.3 730.8 715.8 734.4C719.4 738 724.2 740.4 725.9 741.6"/>
<path d="M697.3 691.5C698 693.9 700.3 701.3 701.5 705.8C702.7 710.3 703.9 716.5 704.4 718.7"/>
<path d="M711.5 647.4A3.1 4 -10 1 1 705.3 648.5A3.1 4 -10 1 1 711.5 647.4Z"/>
<path d="M697.5 664.7A4.6 5.4 -10 1 1 688.5 666.3A4.6 5.4 -10 1 1 697.5 664.7Z"/>
<path d="M688 692.3A4 5.1 -10 1 1 680.2 693.6A4 5.1 -10 1 1 688 692.3Z"/>
<path d="M588.6 660.6C589.8 661.8 593.3 665.7 595.7 667.8C598.1 669.8 600.3 671.4 602.9 672.9C605.4 674.5 608.8 675.6 611 676.9C613.2 678.3 614.8 679.4 616.2 681.1C617.5 682.8 618.3 685.2 619.2 687.2C620 689.3 620.3 691 621.3 693.4C622.3 695.8 623.3 697.6 625.3 701.5C627.3 705.4 630.7 712.1 633.5 716.8C636.2 721.6 639.5 726 641.8 730C644.1 734 646.3 739 647.2 740.9"/>
<path d="M587.6 665.8C588.8 667 592.5 670.4 594.7 672.9C596.9 675.5 599.2 678.7 600.9 681.1C602.6 683.5 603.2 684.8 604.9 687.2C606.6 689.6 608.3 691.3 611 695.4C613.8 699.5 617.9 705.9 621.3 711.7C624.7 717.5 628.8 725.1 631.5 730C634.1 734.8 636.2 739 637.2 740.9"/>
<path d="M588.6 686.9L600.7 681.5"/>
<path d="M614.5 684.4A2.6 3.7 -25 1 1 609.8 686.6A2.6 3.7 -25 1 1 614.5 684.4Z"/>
<path d="M627.2 733L634.3 728.7"/>
<path d="M628.6 735.9L635.8 730.8"/>
<path d="M652 733.4A2.9 4.3 -20 1 1 646.7 735.4A2.9 4.3 -20 1 1 652 733.4Z"/>
<path d="M645.1 729.4L652.9 728"/>
<path d="M708.7 598.6L708.7 615.7"/>
<path d="M708.7 615.7L730.9 608.3"/>
<path d="M690.1 602.9C690.6 603.6 691.3 605.7 693 607.2C694.6 608.6 698.4 611 700.1 611.4C701.8 611.9 703 611 703 610C703 609.1 701.8 607.2 700.1 605.7C698.4 604.3 694.2 602.1 693 601.4"/>
<path d="M675.8 598.6L701.5 614.3"/>
<path d="M661.5 602.9L670.1 617.2"/>
</g>
<clipPath id="cp-g1"><path clip-rule="evenodd" d="M0 0H979V1280H0ZM310 400V510H370V400ZM370 460V510H415V460Z"/></clipPath>
<g class="ln" id="g1" clip-path="url(#cp-g1)">
<path d="M245.5 406.5L245.5 445.1"/>
<path d="M242.9 445.8C242.2 446.1 239.7 446.5 238.9 447.9C238.1 449.4 238 452.6 238.3 454.4C238.6 456.1 239.5 457.7 240.8 458.4C242 459.1 244.9 458.6 245.8 458.7"/>
<path d="M242.9 445.8L253.6 441.5"/>
<path d="M245.8 458.7L258.9 452.9"/>
<path d="M259.9 445.9A4.7 6 -20 1 1 251 449.1A4.7 6 -20 1 1 259.9 445.9Z"/>
<path d="M261.5 444.4L272.9 439.4"/>
<path d="M235.5 489.4A11.2 11.2 0 1 1 213.2 489.4A11.2 11.2 0 1 1 235.5 489.4Z"/>
<path d="M235 484.4L284.4 462.2"/>
<path d="M300.8 384.3C300 384.9 297.8 386.9 295.8 387.9C293.8 388.8 290.4 389.2 288.7 390C286.9 390.9 286.2 391.5 285.5 392.9C284.8 394.3 284.8 395.3 284.7 398.6C284.5 401.9 284.8 409.7 284.7 412.9C284.5 416.1 284.4 416.5 283.7 417.9C282.9 419.3 281.2 420.2 280.1 421.5C279 422.8 277.9 424.1 277.2 425.8C276.5 427.4 275.9 429.6 275.8 431.5C275.7 433.4 275.8 435.5 276.5 437.2C277.2 438.9 278.5 439.4 280.1 441.5C281.6 443.6 283.9 446.7 285.8 450.1C287.7 453.4 289.8 457.7 291.5 461.5C293.2 465.3 294.7 469.1 296.1 473C297.5 476.8 299.4 482.5 300.1 484.4"/>
<path d="M299.2 400.9A5 6 -15 1 1 289.5 403.5A5 6 -15 1 1 299.2 400.9Z"/>
<path d="M289.1 431.4A4.6 5.4 -15 1 1 280.2 433.8A4.6 5.4 -15 1 1 289.1 431.4Z"/>
<path d="M309 404C308 405 304.8 407.4 303.2 410C301.7 412.7 300.5 416.5 299.7 420.1C298.9 423.6 298.3 427.4 298.4 431.5C298.5 435.5 299.1 440.3 300.1 444.4C301.1 448.4 302.5 452 304.4 455.8C306.3 459.6 308.7 463.7 311.5 467.2C314.4 470.8 317.7 474.5 321.6 477.3C325.4 480 332.3 482.6 334.4 483.7"/>
</g>
<g class="ln" id="gk">
<path d="M575 314.4C574.7 309.8 575.8 306.9 578 304C580.2 301.1 584.4 299.2 588 297C591.7 294.9 596.9 292.2 600 291C603.2 289.9 604.9 289.7 607 290C609.2 290.4 610.9 291.9 613.1 293C615.2 294.2 617.4 296.5 620.1 297C622.7 297.5 625.9 296.2 629.1 296C632.2 295.9 636.2 295.4 639.1 296C641.9 296.7 644.2 298.2 646.1 300C648 301.9 646.8 299 650.5 307C654.2 315 664.4 339.6 668.1 348.1C671.8 356.6 671.8 355.3 672.5 358.1C673.2 360.9 672.8 362.8 672.1 365.1C671.4 367.4 670.4 369.8 668.1 372.1C665.8 374.4 661.3 377.9 658.1 379.1C654.9 380.3 651.6 379.8 649.1 379.1C646.6 378.4 644.8 375.3 643.1 375.1C641.4 374.9 639.9 376.6 639.1 378.1C638.2 379.6 638.7 381.9 638.1 384.1C637.4 386.3 637.1 389.1 635.1 391.1C633.1 393.1 628.9 394.8 626.1 396.1C623.2 397.5 620.6 399.1 618.1 399.1C615.6 399.1 613.2 398 611.1 396.1C608.9 394.3 610.2 398.8 605 388.1C599.9 377.4 585 344.3 580 332.1C575 319.8 575.3 319.1 575 314.4Z"/>
<path d="M579 315.2C578.7 311.1 579.8 309 581.6 306.4C583.5 303.9 586.8 302 590 300C593.3 298 598.3 295.4 601 294.4C603.8 293.4 604.7 293.6 606.4 294C608.2 294.5 609.5 295.9 611.7 297C613.8 298.2 616.2 300.5 619.1 301C622 301.5 626.1 300.2 629.1 300C632.1 299.9 634.7 299.5 637.1 300C639.4 300.5 641.5 301.6 643.1 303C644.7 304.4 643.1 300.8 646.7 308.4C650.3 316.1 660.9 340.8 664.5 349.1C668.1 357.4 667.8 355.6 668.3 358.1C668.8 360.6 668.4 362.2 667.7 364.1C667 366 666 367.8 664.1 369.7C662.2 371.6 658.4 374.4 656.1 375.3C653.8 376.2 651.9 375.9 650.1 375.3C648.3 374.7 646.7 372.3 645.1 371.7C643.5 371.1 641.9 371 640.5 371.7C639 372.4 637.5 373.9 636.5 375.7C635.5 377.5 635.2 380.4 634.5 382.5C633.7 384.6 633.6 386.4 632.1 388.1C630.5 389.8 627.3 391.4 625.1 392.5C622.8 393.6 620.5 394.8 618.5 394.7C616.5 394.7 614.8 393.6 613.1 392.1C611.3 390.7 613 396.3 608 386.1C603.1 375.9 588.5 342.9 583.6 331.1C578.8 319.2 579.4 319.3 579 315.2Z"/>
<path d="M584 315.6C583.7 312 584.5 310.5 586 308.4C587.5 306.4 590.4 304.9 593 303.2C595.7 301.6 599.9 299.4 602 298.6C604.2 297.9 604.5 298.1 606 298.6C607.5 299.2 609 300.9 611.1 302C613.1 303.2 615.2 305.3 618.1 305.6C620.9 306 625.2 304.4 628.1 304C630.9 303.7 633.1 303.3 635.1 303.6C637 304 638.4 304.9 639.7 306C640.9 307.2 639.3 303.1 642.7 310.4C646.1 317.8 656.7 342.1 660.1 350.1C663.5 358 662.9 356 663.3 358.1C663.7 360.2 663.1 361.1 662.5 362.5C661.9 363.9 661.1 365.2 659.7 366.5C658.3 367.8 655.6 369.5 654.1 370.1C652.6 370.7 651.8 370.4 650.5 370.1C649.2 369.8 648.1 368.4 646.5 368.1C644.9 367.8 643.2 367.3 641.1 368.1C638.9 368.9 635.4 371.1 633.7 373.1C631.9 375.1 631.2 377.8 630.5 380.1C629.7 382.4 630.1 385.4 629.1 387.1C628 388.8 625.7 389.6 624.1 390.1C622.4 390.7 620.6 390.9 619.1 390.5C617.6 390.2 616.3 389.4 615.1 388.1C613.8 386.9 616.2 392.8 611.7 383.1C607.1 373.4 592.6 341.3 588 330.1C583.4 318.8 584.4 319.2 584 315.6Z"/>
<path d="M629.7 378.1L629.7 388.5"/>
<path d="M612.5 506.6C614.1 505.6 618.1 505.6 620.1 505.8C622.1 506.1 623.6 507.1 624.5 508.2C625.3 509.4 625.4 511.1 625.3 512.6C625.1 514.2 624.9 516.4 623.7 517.4C622.5 518.4 620 518.6 618.1 518.6C616.1 518.6 613.3 518.5 612.1 517.4C610.8 516.4 610.4 514 610.5 512.2C610.5 510.4 610.9 507.7 612.5 506.6Z"/>
<path d="M625.3 511.8L665.1 511.8"/>
<path d="M616.7 523.9L616.7 649.4"/>
</g>
<g class="ln" id="h0">
</g>
<clipPath id="cp-h1"><path clip-rule="evenodd" d="M0 0H979V1280H0ZM310 400V510H370V400ZM370 460V510H415V460ZM370 350V460H480V350Z"/></clipPath>
<g class="ln" id="h1" clip-path="url(#cp-h1)">
<path d="M376.4 300.6L362.5 306.9L381.2 349.3L373.6 353.2"/>
<path d="M377.2 322.9L393.7 316.2"/>
<path d="M378.4 325.2L395.5 318.3"/>
<path d="M393.7 316.2L396.1 317.4L403 330.7L407 332.6L415.8 348.3"/>
<path d="M377.2 322.9L379.4 332.6"/>
<path d="M402.2 336.5L406.5 346"/>
<path d="M334.3 358.9L389.4 329.3"/>
<path d="M335.5 360.6L377.9 337.5"/>
<path d="M389.4 329.3L407.5 367.2"/>
<path d="M347.2 353.6L349.8 359.3"/>
<path d="M312.9 362.2L329.3 353.6L334.3 359.3"/>
<path d="M314 363.9L329.7 355.5"/>
<path d="M312.9 362.2L316.9 374.6"/>
<path d="M316.9 374.6C316.3 376.5 314.4 381.6 313.7 385.8C313.1 390 312.8 395.8 312.9 400.1C313 404.4 313.7 408.5 314.3 411.5C314.9 414.5 315.4 416.9 316.4 418.1C317.5 419.3 320 418.6 320.7 418.7"/>
<path d="M326.9 366.9C326 369.1 322.9 375.7 321.7 380.1C320.6 384.4 320.1 388.7 320 393C320 397.2 320.9 402.2 321.5 405.8C322 409.4 323.2 413 323.6 414.4"/>
<path d="M330.7 369.4C329.9 371.4 326.6 377.6 325.5 381.5C324.3 385.4 324 389.9 323.6 393C323.2 396 323 398.9 322.9 400.1"/>
<path d="M320.7 418.7L333.2 416.1"/>
<path d="M313.6 374.4C312.8 374 310.2 371.9 308.6 372.2C306.9 372.6 304.9 374.5 303.6 376.5C302.3 378.5 301.2 383.1 300.7 384.4"/>
<path d="M310.7 377.2C310.2 377.7 308.3 378.9 307.9 380.1C307.4 381.3 307.5 383.2 307.9 384.4C308.2 385.6 309.7 386.8 310 387.2"/>
<path d="M368.5 356.9A4 4.9 -15 1 1 360.8 359A4 4.9 -15 1 1 368.5 356.9Z"/>
<path d="M357.5 360.8C357.4 359.5 356.1 355.2 356.9 353.2C357.8 351.2 360.6 349.1 362.6 348.6C364.6 348.1 367.3 349 368.9 350.1C370.5 351.1 370.8 352.2 372.2 355.1C373.6 357.9 375.6 364.4 377.2 367.2C378.9 370.1 380.4 370.9 382.2 372.2C384 373.5 387 374.6 387.9 375.1"/>
<path d="M417.8 356.2A4 4.9 -15 1 1 410.1 358.2A4 4.9 -15 1 1 417.8 356.2Z"/>
<path d="M407.5 360.8C407.5 359.4 406.3 354.6 407.3 352.6C408.2 350.6 411 349.2 413 348.6C414.9 348.1 417.4 348.5 419 349.3C420.6 350.2 421.3 351.1 422.7 353.6C424.1 356.2 425.9 361.4 427.3 364.6C428.6 367.9 430.2 371.5 430.8 372.9"/>
<path d="M430.8 372.9L429.4 367.2L433.7 364.4L440 362.2"/>
<path d="M420.8 375.1L430.8 372.9"/>
<path d="M350.1 361.5C349.3 362.1 346.5 362.9 345.5 365.1C344.4 367.2 343.5 371.3 343.6 374.4C343.7 377.5 344.9 381.2 346 383.7C347.2 386.2 348.8 388.1 350.3 389.4C351.8 390.7 354.3 391.2 355.1 391.5"/>
<path d="M357.9 365.1C357.1 365.9 354.1 367.8 353.2 370.1C352.3 372.4 352 375.8 352.3 378.9C352.7 382 353.9 386.1 355.2 388.7C356.5 391.2 359.2 393.4 360.1 394.4"/>
<path d="M364.6 368.6C364.1 369.5 362 371.7 361.2 374.1C360.4 376.5 359.8 380 360.1 382.9C360.3 385.8 361.9 389.1 362.9 391.5C363.9 394 365.5 396.5 366.1 397.5"/>
<path d="M371.5 372.9C371 373.8 369.2 375.8 368.6 377.9C368.1 380.1 367.8 382.8 368.1 385.8C368.4 388.8 370 394.4 370.4 396.1"/>
<path d="M367.2 371.5C367.9 371.5 370.3 371 371.5 371.5C372.7 372 373.9 373.9 374.4 374.4"/>
<path d="M377.9 377.9C377.4 378.9 375.3 381.4 374.6 383.7C374 385.9 373.7 388.8 373.8 391.5C373.9 394.3 375 398.7 375.2 400.1"/>
<path d="M342.5 403A4.3 5.1 -15 1 1 334.2 405.2A4.3 5.1 -15 1 1 342.5 403Z"/>
<path d="M331.2 398.7L343.2 390.1"/>
<path d="M331.2 398.7C331 400.1 329.6 404.7 330 407.3C330.4 409.8 332.4 412.3 333.6 413.7C334.8 415.1 336.8 415.2 337.5 415.5"/>
<path d="M333.2 416.1L370.4 398.7"/>
<path d="M335.8 421.6L374.6 403.2"/>
<path d="M347.2 409.4L349.3 413.7"/>
<path d="M370.4 398.7L371.5 402.2L374.6 403.2"/>
<path d="M374.6 403.2L375.1 408.7"/>
<path d="M328.6 420.1L335.8 422.3"/>
<path d="M334.6 427.9A2.4 4 -20 1 1 330 429.5A2.4 4 -20 1 1 334.6 427.9Z"/>
<path d="M328.6 420.1C328.2 421.1 326.6 423.7 326.5 425.8C326.3 428 326.7 431 327.9 433C329.1 435 332 436.9 333.6 438C335.2 439.1 336.8 439.2 337.5 439.4"/>
<path d="M341.5 425.8C342.2 425.1 344.3 422.3 345.8 421.6C347.2 420.8 348.6 420.8 350.1 421.6C351.5 422.3 352.9 423.9 354.3 425.8C355.8 427.7 357.4 430.6 358.6 433C359.8 435.3 361 438.8 361.5 440"/>
<path d="M360.1 423C359.6 422.3 357.4 420.1 357.2 418.7C357 417.3 358.4 415.1 358.6 414.4"/>
<path d="M374.4 404.4C373.4 405.3 369.8 408.4 368.6 410.1C367.4 411.8 367 412.5 367.2 414.4C367.4 416.3 369.2 419.2 370.1 421.6C370.9 423.9 371.9 427.5 372.2 428.7"/>
<path d="M380.1 406.5C379.2 407.6 376 410.9 375.1 413C374.1 415 374 416.5 374.4 418.7C374.7 420.8 376.3 423.2 377.2 425.8C378.2 428.5 379.6 433 380.1 434.4"/>
<path d="M359.3 415.1C359.9 414.8 361.8 413.3 362.9 413C364 412.6 365.3 413 365.8 413"/>
<path d="M384.4 382.9L406.5 371.1"/>
<path d="M380.1 380.1L384.4 382.9"/>
<path d="M380.1 380.1C380 381.5 379.1 385.3 379.4 388.7C379.6 392 380.4 396 381.5 400.1C382.6 404.2 384.1 408.7 385.8 413C387.5 417.3 389.6 421.3 391.5 425.8C393.4 430.3 396.3 437.6 397.2 440"/>
<path d="M384.4 382.9C384.3 384.4 383.4 388.2 383.7 391.5C383.9 394.9 384.7 398.9 385.8 403C386.9 407 388.4 411.5 390.1 415.8C391.8 420.1 394 424.7 395.8 428.7C397.6 432.7 400 438.1 400.8 440"/>
<path d="M377.9 380.1C377.7 381.5 376.5 385.3 376.5 388.7C376.5 392 377.1 396.3 377.9 400.1C378.8 403.9 380.7 407.7 381.5 411.5C382.3 415.4 382.6 418.2 382.9 423C383.3 427.7 383.5 437.2 383.7 440"/>
<path d="M406.5 371.1L414.4 377.9"/>
<path d="M389.4 385.8L405.8 377.9"/>
<path d="M389.4 385.8C389.1 386.8 387.8 389.6 387.9 391.5C388.1 393.4 389 395.8 390.1 397.2C391.2 398.7 393.7 399.6 394.4 400.1"/>
<path d="M400.8 392.3A5.4 6.4 -15 1 1 390.3 395.1A5.4 6.4 -15 1 1 400.8 392.3Z"/>
<path d="M413.3 380.9A3.6 4.3 -15 1 1 406.4 382.7A3.6 4.3 -15 1 1 413.3 380.9Z"/>
<path d="M400.1 391.5L413 387.2"/>
<path d="M400.1 400.1L414.4 395.8"/>
<path d="M405.1 377.2C406.1 376.7 408.9 374.2 410.8 374.4C412.7 374.5 415.5 376.5 416.5 377.9C417.6 379.4 417.1 382.1 417.3 382.9"/>
<path d="M415.8 385.8C416.2 385.6 417.3 384.4 418 384.4C418.7 384.4 419.8 385.6 420.1 385.8"/>
<path d="M417.3 391.5C417 391 415.9 389.5 415.8 388.7C415.7 387.8 416.4 386.9 416.5 386.5"/>
<path d="M424.4 385.8C425.1 385.6 427 384.4 428.7 384.4C430.4 384.4 432.8 384.6 434.4 385.8C436.1 387 438 390.6 438.7 391.5"/>
<path d="M431.8 397.2A4.3 5.4 -10 1 1 423.3 398.7A4.3 5.4 -10 1 1 431.8 397.2Z"/>
<path d="M421.6 391.5C421.1 392.5 418.9 394.9 418.7 397.2C418.5 399.6 418.9 403.7 420.1 405.8C421.3 408 423.7 409.4 425.8 410.1C428 410.8 431.8 410.1 433 410.1"/>
<path d="M415.3 408L415.3 440.9"/>
<path d="M398.7 410.1L414.4 408"/>
<path d="M398.7 410.1C398.9 410.8 399.4 413 400.1 414.4C400.8 415.8 402.5 418 403 418.7"/>
<path d="M400.1 413C400.6 412.7 402.2 410.8 403 411.5C403.7 412.3 404.4 415.6 404.4 417.3C404.4 418.9 403.2 420.8 403 421.6"/>
<path d="M403 421.6L408.7 418.7"/>
<path d="M405.8 418.7C406.5 419.4 408.7 421.8 410.1 423C411.5 424.2 413.7 425.4 414.4 425.8"/>
<path d="M414.4 425.8L440 414.4"/>
<path d="M425.8 418.7L440 413"/>
<path d="M417.3 428.7C418 428.2 420.1 425.8 421.6 425.8C423 425.8 424.6 427 425.8 428.7C427 430.4 428 434 428.7 435.9C429.4 437.7 429.9 439.3 430.1 440"/>
<path d="M423 428.7C423.5 428.5 424.9 427 425.8 427.3C426.8 427.5 427.7 428.7 428.7 430.1C429.7 431.6 430.8 434.2 431.6 435.9C432.3 437.5 432.8 439.3 433 440"/>
<path d="M428.7 425.8C429.4 425.6 431.8 423.9 433 424.4C434.2 424.9 435 426.8 435.9 428.7C436.7 430.6 437.6 434.7 438 435.9"/>
<path d="M380.1 406.5L383.7 408.7"/>
<path d="M385.8 435.9C386.3 435.4 387.5 433.5 388.7 433C389.9 432.5 392 432.3 393 433C393.9 433.7 394.1 436.6 394.4 437.3"/>
<path d="M389.4 433.7L390.1 440"/>
</g>
<clipPath id="cp-h2"><path clip-rule="evenodd" d="M0 0H979V1280H0ZM370 350V460H480V350Z"/></clipPath>
<g class="ln" id="h2" clip-path="url(#cp-h2)">
<path d="M479.3 274.3L479.3 313.6"/>
<path d="M470.7 317.9L488.6 307.9"/>
<path d="M477.5 333.7L493.9 323.6"/>
<path d="M470.7 317.9C470.4 318.7 468.7 320.9 468.6 322.9C468.5 324.9 469.1 328.2 470 330C471 331.8 473.1 333 474.3 333.6C475.6 334.2 476.9 333.7 477.5 333.7"/>
<path d="M494.6 312A3.3 5.4 -20 1 1 488.4 314.3A3.3 5.4 -20 1 1 494.6 312Z"/>
<path d="M488.6 307.9C489.3 307.7 491.5 306.3 492.6 306.9C493.8 307.5 495.1 309.5 495.5 311.4C495.9 313.4 495.2 316.6 494.9 318.6C494.6 320.6 494.1 322.8 493.9 323.6"/>
<path d="M465 324.3L453.6 330L465 355.1L443.6 363.2"/>
<path d="M574.4 358.9C573.5 359.1 570.2 359 568.7 360.1C567.2 361.1 565.5 363.3 565.1 365.1C564.8 366.9 565.5 369.5 566.6 370.8C567.6 372.1 569.9 373 571.6 372.9C573.2 372.9 575.7 370.8 576.6 370.4"/>
<path d="M511.5 386.5L543.2 372.2"/>
<path d="M515.8 398.1L550.4 382.9"/>
<path d="M511.5 386.5C510.8 386.9 508.1 387.6 507.2 388.9C506.3 390.3 505.7 392.8 506.1 394.4C506.4 396 507.7 397.8 509.4 398.4C511 399 514.7 398.1 515.8 398.1"/>
<path d="M514.1 387.2C513.6 387.9 511.4 390 511.2 391.5C511.1 393 512.9 395.3 513.2 396.1"/>
<path d="M543.2 372.2C544 372.3 546.7 371.7 548 372.6C549.3 373.6 550.6 376.2 551 377.9C551.4 379.7 550.5 382.1 550.4 382.9"/>
<path d="M535.5 377.2C535.1 377.9 533.4 380.1 533.2 381.5C533.1 382.9 533.9 384.8 534.7 385.8C535.5 386.8 537.4 387.2 538 387.5"/>
<path d="M538.4 375.8C538 376.5 536.2 378.7 536.1 380.1C536 381.5 536.7 383.4 537.5 384.4C538.3 385.4 540.3 385.8 540.8 386.1"/>
<path d="M541.8 374.4C541.6 375 540.5 376.6 540.4 377.9C540.3 379.2 540.6 381.2 541.2 382.2C541.9 383.2 543.6 383.8 544.1 384.1"/>
<path d="M503.6 397.2L481.5 408L468.6 380.8L441.4 391.5"/>
<path d="M440 367.5L444.3 366.6"/>
<path d="M440 374.6L444.3 373.8"/>
<path d="M440.9 367.2L440.9 374.4"/>
<path d="M455.7 368.9A4.3 5.1 -10 1 1 447.2 370.4A4.3 5.1 -10 1 1 455.7 368.9Z"/>
<path d="M454 367.2C453.5 367.1 451.7 366 450.9 366.4C450 366.7 449 368.4 448.9 369.4C448.7 370.4 449.3 371.8 450 372.4C450.7 373 452.6 372.8 453.2 372.9"/>
<path d="M451.4 375.1L468.6 400.1"/>
<path d="M454.3 378.4L470.9 401.8"/>
<path d="M440 384.4L447.2 400.1"/>
<path d="M440 410.4L460 400.4"/>
<path d="M460 400.4C461.5 400.6 466.4 400.4 468.6 401.5C470.8 402.7 472.3 405.1 473.2 407.3C474 409.4 473.7 411.5 473.7 414.4C473.8 417.3 473.7 422.7 473.7 424.4"/>
<path d="M473.7 424.4L440 440"/>
<path d="M440 428.7L470 417.5"/>
<path d="M455.7 408.7C456.7 409.2 460 410.1 461.5 411.5C462.9 413 464.4 415.6 464.6 417.3C464.8 418.9 463.2 420.8 462.9 421.6"/>
<path d="M448.6 413C449.5 413.4 452.9 414.4 454.3 415.8C455.7 417.3 456.9 419.8 457.2 421.6C457.4 423.3 456 425.7 455.7 426.6"/>
<path d="M441.4 416.5C442.4 416.9 445.7 417.4 447.2 418.7C448.6 420 449.8 422.5 450 424.4C450.2 426.3 448.8 429.2 448.6 430.1"/>
<path d="M440 400.1C441 400.6 444.3 401.8 445.7 403C447.2 404.2 448.1 406.5 448.6 407.3"/>
<path d="M457.2 402.2L458.6 404.4"/>
<path d="M468.6 425.8L470.7 440"/>
<path d="M474.3 428.7L475.8 440"/>
</g>
<clipPath id="cp-h3"><path clip-rule="evenodd" d="M0 0H979V1280H0ZM310 400V510H370V400ZM370 460V510H415V460ZM370 350V460H480V350Z"/></clipPath>
<g class="ln" id="h3" clip-path="url(#cp-h3)">
<path d="M300 484.3C300.5 486.2 301.4 492.9 302.9 495.8C304.3 498.6 306.4 500.3 308.6 501.5C310.7 502.7 313.6 502.2 315.7 502.9C317.9 503.6 319.5 504.4 321.5 505.8C323.4 507.2 325.3 509.1 327.2 511.5C329.1 513.9 330.7 517.6 332.9 520.1C335 522.6 337.4 525 340 526.5C342.7 528.1 345.8 529.5 348.6 529.4C351.5 529.3 352.8 528.2 357.2 525.8C361.6 523.4 372.1 516.9 375.1 515.1"/>
<path d="M313.9 489.3C313.1 489.2 310.6 488.1 309.4 488.6C308.3 489.1 307.1 491 306.9 492.2C306.6 493.4 307.1 495.3 308 496.1C309 496.8 311.8 496.5 312.6 496.6"/>
<path d="M356 506.3A9.3 11.7 -12 1 1 337.8 510.1A9.3 11.7 -12 1 1 356 506.3Z"/>
<path d="M337.5 448.6C336.8 449.1 333.9 450 333.2 451.4C332.5 452.9 332.3 454.1 333.2 457.2C334.1 460.3 336.5 465.3 338.6 470C340.7 474.8 343.4 481.4 345.8 485.8C348.1 490.2 350.1 493.4 352.9 496.5C355.8 499.6 359.3 502.3 362.9 504.4C366.5 506.4 370.5 507.8 374.4 508.6C378.2 509.5 382.5 509.6 385.8 509.4C389.1 509.1 391.3 508.3 394.4 506.9C397.5 505.6 400.9 503.2 404.4 501.2C407.9 499.2 413.7 496.1 415.5 495.1"/>
<path d="M348.6 453.6C347.7 454.4 344 456.6 342.9 458.6C341.8 460.6 341.5 462.4 342.2 465.7C342.9 469.1 345.2 474.1 347.2 478.6C349.2 483.1 351.7 489.1 354.3 492.9C357 496.7 360.1 499.2 362.9 501.5C365.8 503.8 370.1 506 371.5 506.9"/>
<path d="M355.5 460C354.6 460.6 351.2 461.9 350.3 463.6C349.4 465.3 349.4 467.1 350.1 470C350.7 473 352.7 477.7 354.3 481.5C356 485.3 357.9 489.7 360.1 492.9C362.2 496.1 364.7 498.7 367.2 500.8C369.7 502.9 373.8 504.7 375.1 505.5"/>
<path d="M370.1 509.4L382.2 509.4"/>
<path d="M368.9 463.6A3.9 5 -10 1 1 361.3 465A3.9 5 -10 1 1 368.9 463.6Z"/>
<path d="M357.5 454.3C357.3 455.5 356.4 459.1 356.6 461.5C356.8 463.8 357.6 466.6 358.6 468.6C359.7 470.6 361.3 472.7 362.9 473.6C364.6 474.6 366.7 474.8 368.6 474.3C370.5 473.8 370.8 472.7 374.4 470.7C377.9 468.8 387.2 464.2 389.8 462.9"/>
<path d="M355.1 454.3L359.8 455.2"/>
<path d="M357.5 454.3L356.6 460"/>
<path d="M372.1 442.8A2.9 4.3 -15 1 1 366.6 444.3A2.9 4.3 -15 1 1 372.1 442.8Z"/>
<path d="M332.9 450C333.4 449.7 334.7 448.1 335.8 447.9C336.8 447.7 338.4 448.7 338.9 448.9"/>
<path d="M340 440C340.5 441 341.2 444.1 342.9 445.7C344.6 447.4 347.7 449.5 350.1 450C352.4 450.5 355.3 449.5 357.2 448.6C359.1 447.6 360.5 445.7 361.5 444.3C362.4 442.9 362.7 440.7 362.9 440"/>
<path d="M362.9 451.7C363.9 451.4 366.7 450 368.6 450C370.5 450 373.4 451.4 374.4 451.7"/>
<path d="M380.1 451.4C380.8 451.9 382.9 453.7 384.4 454.3C385.8 454.9 387.2 455.3 388.7 455C390.1 454.8 392.2 453.2 393 452.9"/>
<path d="M374.4 451.7C374.8 451.2 376 449.1 377.2 448.6C378.4 448.1 380.1 448.1 381.5 448.6C382.9 449.1 385.1 451 385.8 451.4"/>
<path d="M415.5 440L415.5 511.5"/>
<path d="M415.5 511.5L440 501.5"/>
<path d="M415.5 495.1L440 482.9"/>
<path d="M389.4 463.6C389.3 464.9 388.1 469 388.7 471.5C389.3 474 391 476.7 393 478.6C394.9 480.5 398.9 482.2 400.1 482.9"/>
<path d="M393.7 462.9C393.7 464.1 393 467.6 393.7 470C394.4 472.4 395.9 475.3 398 477.2C400 479.1 403.1 480.6 405.8 481.5C408.6 482.3 413 482.1 414.4 482.2"/>
<path d="M398.7 461.5C398.9 462.6 399.1 466.2 400.1 468.6C401.1 471 402 474 404.4 475.8C406.8 477.5 412.7 478.7 414.4 479.3"/>
<path d="M403 458.6C403.3 459.8 403.9 463.6 405.1 465.7C406.3 467.9 408.4 470 410.1 471.5C411.8 472.9 414.3 473.8 415.1 474.3"/>
<path d="M400.1 448.6L414.4 475.8"/>
<path d="M404.4 445.7L415.1 468.6"/>
<path d="M394.4 451.4L403 458.6"/>
<path d="M418.7 454.3C419.2 455.7 419.9 460.5 421.6 462.9C423.2 465.3 426.3 467.4 428.7 468.6C431.1 469.8 434.7 469.8 435.9 470"/>
<path d="M423 448.6C423.5 450 424.4 454.8 425.8 457.2C427.3 459.5 429.4 461.7 431.6 462.9C433.7 464.1 437.5 464.1 438.7 464.3"/>
<path d="M440 471.5C439.1 472.4 436.3 475.5 434.4 477.2C432.5 478.8 430.8 480.5 428.7 481.5C426.6 482.4 422.7 482.7 421.6 482.9"/>
<path d="M425.8 448.6L431.6 465.7"/>
<path d="M415.5 452.9L440 442.9"/>
<path d="M421.6 440C421.8 440.5 422 442.4 423 442.9C423.9 443.3 426.6 442.9 427.3 442.9"/>
<path d="M415.5 481.5L423 482.9"/>
<path d="M440 495.1C439.1 495.4 435.9 496.4 434.4 497.2C432.9 498 431.5 498.9 430.8 500.1C430.2 501.3 430.1 503.2 430.4 504.4C430.8 505.5 431.4 506.7 433 507.2C434.6 507.7 438.8 507.2 440 507.2"/>
<path d="M437.6 500.1C437.3 500.5 435.9 502 435.9 502.9C435.8 503.9 436.8 505.3 437 505.8"/>
</g>
<clipPath id="cp-h4"><path clip-rule="evenodd" d="M0 0H979V1280H0ZM310 400V510H370V400ZM370 460V510H415V460ZM370 350V460H480V350Z"/></clipPath>
<g class="ln" id="h4" clip-path="url(#cp-h4)">
<path d="M491.3 469.6A6.1 6.9 0 1 1 485.9 473.6"/>
<path d="M440 494.1L472.2 480"/>
<path d="M440 506.1L447.2 502.9L476 489.3"/>
<path d="M472.2 480C472.9 480.3 475.5 480.5 476.5 481.5C477.4 482.4 478.1 484.4 478 485.8C478 487.1 476.4 488.7 476 489.3"/>
<path d="M469.3 481.5C469.1 482.2 467.8 484.3 467.9 485.8C468 487.2 469.1 489.1 470 490.1C471 491 473 491 473.6 491.2"/>
<path d="M456.9 487.2C456.7 487.9 455.6 490.2 455.7 491.5C455.9 492.8 456.9 494.3 457.9 495.1C458.9 495.8 461.1 495.7 461.7 495.8"/>
<path d="M471.7 440C471.6 441 471.5 444.1 470.7 445.7C470 447.4 468.7 449.1 467.2 450C465.6 451 462.4 451.2 461.5 451.4"/>
<path d="M473.6 453.6L477.5 462.2L464.6 467.9L461.5 463.6"/>
<path d="M445.7 455C445.5 455.6 444.2 457.4 444.3 458.6C444.4 459.8 445.2 461.3 446.4 462.2C447.6 463 449.8 463.7 451.4 463.6C453 463.5 455.3 461.8 456 461.5"/>
<path d="M449.3 453.6C450.1 454.2 452.8 455.8 454.3 457.2C455.8 458.5 457.9 460.7 458.6 461.5"/>
<path d="M447.2 454.3C447.9 454.2 450.2 453.3 451.4 453.6C452.6 453.8 453.8 455.4 454.3 455.7"/>
<path d="M440 470.7C441.4 470.1 445.9 468.5 448.6 467.2C451.2 465.9 454.8 463.6 456 462.9"/>
<path d="M440 481.5C441.2 481 444.3 480 447.2 478.6C450 477.2 454.7 474.6 457.2 472.9C459.6 471.2 461 469.3 461.7 468.6"/>
<path d="M454.3 440C454.8 441 455.7 444.5 457.2 445.7C458.6 446.9 461.2 447.4 462.9 447.2C464.5 446.9 466.5 444.8 467.2 444.3"/>
<path d="M440 447.2C440.7 446.9 443.1 446.4 444.3 445.7C445.5 445 446.7 443.3 447.2 442.9"/>
<path d="M473.6 453.6L470.7 448.6"/>
</g>
<clipPath id="cp-hc"><path clip-rule="evenodd" d="M370 350H480V460H370ZM420 380V460H480V380Z"/></clipPath>
<g class="ln" id="hc" clip-path="url(#cp-hc)">
<path d="M415.3 408.4L415.3 460.7"/>
<path d="M480.7 407.5L468.5 380.8L441.3 391.5"/>
<path d="M463.3 348.9L465.5 355.1L430.1 366.9"/>
<path d="M375.1 382.6C375 383.7 374.2 386.3 374.5 389.3C374.8 392.3 375.4 396.6 376.7 400.6C378.1 404.5 380.1 408.2 382.4 412.9C384.6 417.6 387.6 423.2 390.2 428.7C392.8 434.1 395.8 440.2 398.1 445.5C400.3 450.8 402.8 458.1 403.7 460.7"/>
<path d="M381.2 380.3C381.1 381.6 380.3 385 380.7 388.2C381 391.4 382.1 395.5 383.5 399.4C384.9 403.4 386.9 406.9 389.1 411.8C391.3 416.7 394.3 423 397 428.7C399.6 434.3 402.7 440.2 404.8 445.5C406.9 450.8 408.8 458.1 409.6 460.7"/>
<path d="M384.6 381.5C384.5 382.6 383.7 385.4 384 388.2C384.4 391 385.4 394.6 386.9 398.3C388.3 402.1 390.2 405.8 392.5 410.7C394.7 415.5 397.7 421.9 400.3 427.5C403 433.1 406.1 438.9 408.2 444.4C410.3 449.9 412.1 458 412.9 460.7"/>
<path d="M375.1 382.6C375.3 381.9 375.7 379.6 376.7 378.7C377.8 377.7 380.5 377.2 381.2 377"/>
<path d="M381.2 377L407.1 366.9"/>
<path d="M389.7 384.8L404.8 377"/>
<path d="M418.5 357.2A3.8 4.7 -10 1 1 411 358.5A3.8 4.7 -10 1 1 418.5 357.2Z"/>
<path d="M407.1 353.4C407 354.3 406.2 356.9 406.5 359C406.8 361 407.7 364 408.8 365.7C409.8 367.4 411.1 367.8 412.7 369.1C414.3 370.4 417.6 373 418.5 373.8"/>
<path d="M419.4 348.9L428.4 366.9"/>
<path d="M412.6 381.4A3.4 3.9 -10 1 1 406 382.6A3.4 3.9 -10 1 1 412.6 381.4Z"/>
<path d="M403.7 377C404.5 376.5 406.5 374.3 408.2 374.2C409.9 374 412.5 374.8 413.8 375.8C415.1 376.9 416.1 378.8 416.1 380.3C416.1 381.8 414.9 383.7 413.8 384.8C412.7 386 410.1 386.7 409.3 387.1"/>
<path d="M400.4 392.9A5.6 6.7 -15 1 1 389.5 395.8A5.6 6.7 -15 1 1 400.4 392.9Z"/>
<path d="M431.7 397.5A4.5 5.6 -10 1 1 422.9 399.1A4.5 5.6 -10 1 1 431.7 397.5Z"/>
<path d="M423.9 386C425.1 385.8 428.6 384.1 430.7 384.8C432.7 385.6 435.1 388.2 436.3 390.4C437.5 392.7 438 395.7 438 398.3C438 400.9 437.3 404 436.3 406.2C435.3 408.3 433.5 410.3 431.8 411.2C430.1 412.2 428.1 412.3 426.2 411.8C424.3 411.3 422.1 409.9 420.6 408.4C419.1 406.9 417.8 403.7 417.2 402.8"/>
<path d="M456.5 367.9A3.9 4.5 -10 1 1 448.7 369.2A3.9 4.5 -10 1 1 456.5 367.9Z"/>
<path d="M454.3 366.9C453.8 366.8 452.2 366 451.5 366.3C450.7 366.6 450.1 368 450 368.9C449.9 369.7 450.4 370.9 451.1 371.3C451.8 371.8 453.6 371.5 454 371.6"/>
<path d="M419.4 386.5C419 386.5 417.2 386 416.6 386.5C416.1 387 416 388.5 416.1 389.3C416.2 390.2 416.5 391.2 417.2 391.6C417.9 392 419.6 391.8 420.1 391.8"/>
<path d="M396.2 438.1A3.8 4.9 -10 1 1 388.7 439.4A3.8 4.9 -10 1 1 396.2 438.1Z"/>
<path d="M383.5 435.4C383.7 434.8 383.7 432.9 384.6 432C385.5 431.2 387.4 430.3 389.1 430.3C390.8 430.3 393.2 430.8 394.7 432C396.2 433.2 397.7 435.8 398.1 437.6C398.5 439.5 397.9 441.9 397 443.3C396 444.6 394.2 445.3 392.5 445.5C390.8 445.7 388.4 445.3 386.9 444.4C385.4 443.4 384 440.6 383.5 439.9"/>
<path d="M394.2 436.5C393.7 436.5 392.2 435.9 391.6 436.3C391 436.7 390.4 437.9 390.4 438.8C390.5 439.6 391.2 440.8 391.9 441.2C392.6 441.6 394.1 441.2 394.5 441.2"/>
<path d="M423.9 438.2A3.4 5.6 -10 1 1 417.2 439.3A3.4 5.6 -10 1 1 423.9 438.2Z"/>
<path d="M417.2 433.1C417.8 432.8 419.4 430.7 420.6 430.9C421.7 431.1 423.2 432.8 423.9 434.3C424.7 435.8 425.2 438.2 425.1 439.9C424.9 441.6 423.9 443.8 422.8 444.4C421.7 444.9 419.1 443.4 418.3 443.3"/>
<path d="M444.4 441C443.7 441.1 441.1 440.8 440.2 441.6C439.3 442.3 439 444.3 439.1 445.5C439.2 446.7 439.8 448.2 440.8 448.9C441.7 449.6 444.2 449.4 444.8 449.6"/>
<path d="M423.9 383.7C425.4 383.1 430.3 380.9 432.9 380.3C435.5 379.8 437.4 379.8 439.7 380.3C441.9 380.9 444.5 382.2 446.4 383.7C448.3 385.2 450.1 388.4 450.9 389.3"/>
<path d="M456.5 408.4C457.3 408.6 459.7 408.6 461 409.6C462.3 410.5 463.6 412.4 464.4 414C465.1 415.7 465.3 418.7 465.5 419.7"/>
<path d="M459.9 403.9C460.8 404.3 464 404.9 465.5 406.2C467 407.5 468.1 409.9 468.9 411.8C469.6 413.7 469.8 416.5 470 417.4"/>
<path d="M450.9 412.9C451.5 413.7 453.5 415.7 454.3 417.4C455 419.1 455.2 422.1 455.4 423"/>
<path d="M445.3 415.2C445.8 415.9 447.9 417.8 448.7 419.7C449.4 421.5 449.6 425.3 449.8 426.4"/>
<path d="M439.7 418.5C440.2 419.3 442.3 421.3 443 423C443.8 424.7 444 427.7 444.2 428.7"/>
<path d="M432.9 421.9C433.5 422.7 435.5 424.7 436.3 426.4C437 428.1 437.2 431.1 437.4 432"/>
<path d="M427.3 424.2C428.1 424.7 430.7 425.8 431.8 427.5C432.9 429.2 433.9 432.4 434 434.3C434.2 436.1 433.1 438 432.9 438.8"/>
<path d="M416.1 425.3L456.5 402.8"/>
<path d="M416.1 452.2L471.1 421.9"/>
<path d="M429.6 417.4L448.7 406.2"/>
<path d="M439.7 392.7L447.5 406.2"/>
<path d="M441.9 392.1L450 390.4"/>
<path d="M449.8 377L459.9 399.4"/>
<path d="M453.1 375.8L467.8 399.4"/>
<path d="M457.6 383.7L468.9 380.1"/>
<path d="M459.9 399.4C461 400 464.8 401.3 466.6 402.8C468.5 404.3 470 406.4 471.1 408.4C472.2 410.5 473.1 412.9 473.4 415.2C473.7 417.4 472.9 420.8 472.8 421.9"/>
<path d="M467.8 399.4C468.7 400.6 472.1 403.6 473.4 406.2C474.7 408.8 475.2 413.7 475.6 415.2"/>
<path d="M472.8 421.9L462.1 426.4"/>
<path d="M462.1 419.7L462.1 426.4"/>
<path d="M457.6 428.7C459 428.5 463.3 427.2 465.5 427.5C467.8 427.9 469.4 429 471.1 430.9C472.8 432.8 474.7 436.1 475.6 438.8C476.6 441.4 477.1 444.2 476.7 446.6C476.4 449.1 473.9 452.2 473.4 453.4"/>
<path d="M448.7 438.8C449.4 439.9 451.6 443.8 453.1 445.5C454.6 447.2 456.9 448.3 457.6 448.9"/>
<path d="M450.9 435.4C451.6 435 454.3 434.3 455.4 433.1C456.5 432 457.3 429.4 457.6 428.7"/>
<path d="M471.1 451.1C470.4 450.7 468.5 449.1 466.6 448.9C464.8 448.7 461 449.8 459.9 450"/>
<path d="M448.7 454.5C449.8 454.3 453.1 453.2 455.4 453.4C457.6 453.6 459.9 454.4 462.1 455.6C464.4 456.8 467.8 459.8 468.9 460.7"/>
<path d="M401.5 391.6L414.9 388.2"/>
<path d="M416.1 394.9L422.8 393.3"/>
<path d="M395.8 410.7C396.6 410.5 399 409 400.3 409.6C401.6 410.1 403.3 412.4 403.7 414C404.1 415.7 402.8 418.7 402.6 419.7"/>
<path d="M395.8 410.7L399.2 419.7"/>
<path d="M409.3 418.5C409.2 419.3 409.5 421.7 408.8 423C408 424.3 405.5 425.8 404.8 426.4"/>
<path d="M403.7 430.9L414.9 426.4"/>
<path d="M374.5 414L382.4 406.2"/>
<path d="M374.5 414C374.7 415 374.9 417.6 375.6 419.7C376.4 421.7 377.9 424.2 379 426.4C380.1 428.7 381.8 432 382.4 433.1"/>
<path d="M368.9 400.6L374.5 402.8L375.1 408.4L368.9 410.7"/>
<path d="M392.5 401.7L403.7 399.4L414.9 396.1"/>
<path d="M402.6 400.6L409.3 410.7"/>
<path d="M368.9 439.9C369.6 440.4 372.4 441.8 373.4 443.3C374.3 444.8 374.3 447.9 374.5 448.9"/>
<path d="M374.5 448.9L382.4 445.5"/>
<path d="M381.2 451.1C382.2 451.7 385 454.3 386.9 454.5C388.7 454.7 391.5 452.6 392.5 452.2"/>
<path d="M390.2 444.4C391 445.1 393.2 447.9 394.7 448.9C396.2 449.8 398.5 449.8 399.2 450"/>
<path d="M368.9 353.4L376.7 369.1"/>
<path d="M376.7 369.1L389.1 375.3L407.1 366.9"/>
<path d="M399.2 348.9L407.1 366.9"/>
<path d="M376.7 369.1C377.3 369.7 379 372.1 380.1 372.5C381.2 372.8 382.9 371.5 383.5 371.3"/>
<path d="M368.9 372.5L374.5 374.7"/>
<path d="M430.7 366.9L431.8 372.5L429.6 374.7L421.7 374.2"/>
<path d="M432.9 365.7L441.9 363.5"/>
<path d="M434 371.3L440.8 374.2"/>
<path d="M440.8 364.6L441.3 374.2"/>
<path d="M439.7 374.2L443 374.2"/>
<path d="M439.1 364.6L443 364.4"/>
</g>
<clipPath id="cp-hl"><path clip-rule="evenodd" d="M310 400H415V510H310ZM370 400V460H415V400Z"/></clipPath>
<g class="ln" id="hl" clip-path="url(#cp-hl)">
<path d="M308.9 466.9C310.2 468.3 314.1 472.9 316.7 475.3C319.4 477.6 321.6 479.5 324.6 480.9C327.6 482.3 333.2 483.2 334.9 483.7"/>
<path d="M313.6 488.8C313 488.8 310.8 488.1 310 488.8C309.2 489.4 308.7 491.4 308.7 492.7C308.7 494 309.2 496 310 496.6C310.8 497.3 313 496.6 313.6 496.6"/>
<path d="M308.9 502C310.2 502.2 314.5 502.6 316.7 503.4C319 504.2 320.6 505.5 322.4 506.7C324.1 508 326.3 510 327.1 510.7"/>
<path d="M337 510.7C337.1 509.1 336.8 503.5 337.5 501.1C338.3 498.8 339.9 497.4 341.5 496.6C343.1 495.9 345.2 496.1 347.1 496.6C349 497.2 351.2 498.5 352.7 500C354.2 501.5 355.4 503.8 356.1 505.6C356.7 507.4 356.6 509.8 356.7 510.7"/>
<path d="M326.9 424.2C327 422.9 327.6 422.4 328.5 421.9C329.5 421.4 331.1 421.3 332.5 421.3C333.9 421.3 335.3 422 337 421.9C338.7 421.8 340.9 420.9 342.6 420.8C344.3 420.7 345.4 420.7 347.1 421.3C348.8 422 350.8 423.4 352.7 424.7C354.6 426 356.6 427.7 358.3 429.2C360 430.7 361.1 432.6 362.8 433.7C364.5 434.8 366.7 435 368.4 436C370.1 436.9 371.8 437.8 372.9 439.3C374 440.8 374.9 443.3 375.2 444.9C375.4 446.6 375.4 448.4 374.6 449.4C373.9 450.5 372.1 450.9 370.7 451.1C369.3 451.3 367.5 450.5 366.2 450.6C364.9 450.7 363.9 451.1 362.8 451.7C361.7 452.2 360.7 453.5 359.4 453.9C358.1 454.4 356.6 454.7 354.9 454.5C353.3 454.3 351 453.8 349.3 452.8C347.6 451.8 346.3 449.8 344.8 448.3C343.3 446.8 341.5 445.3 340.3 443.8C339.2 442.3 339 440.6 338.1 439.3C337.2 438 336 437.1 334.7 436C333.4 434.8 331.4 433.7 330.2 432.6C329 431.5 328 430.6 327.4 429.2C326.9 427.8 326.7 425.4 326.9 424.2Z"/>
<path d="M356.9 450.1A15.2 8.8 67 1 1 345.1 422.2A15.2 8.8 67 1 1 356.9 450.1Z"/>
<path d="M334.6 427.4A2.5 3.9 -30 1 1 330.3 429.9A2.5 3.9 -30 1 1 334.6 427.4Z"/>
<path d="M370.8 442A2.5 3.9 -30 1 1 366.5 444.5A2.5 3.9 -30 1 1 370.8 442Z"/>
<path d="M312.2 398.9C312.4 400.6 312.8 406.2 313.4 409C313.9 411.8 314.5 414.2 315.6 415.7C316.7 417.2 318.2 417.8 320.1 418C322 418.2 324.8 416.8 326.9 416.9C328.9 416.9 331.5 418.3 332.5 418.5"/>
<path d="M316.7 398.9C316.9 400.4 317.1 405.4 317.9 407.9C318.6 410.3 320.7 412.5 321.2 413.5"/>
<path d="M322.4 398.9C322.5 400 322.9 403.7 323.5 405.6C324 407.5 325.4 409.4 325.7 410.1"/>
<path d="M330.2 398.9C330.4 400 330.6 403.9 331.3 405.6C332.1 407.3 334.2 408.4 334.7 409"/>
<path d="M335.3 398.9C335.3 400 334.7 404 335.3 405.6C335.8 407.3 337.4 408.6 338.7 408.8C339.9 409 341.8 408.4 342.6 406.7C343.4 405.1 343.1 400.2 343.3 398.9"/>
<path d="M332.5 418.5L337 414"/>
<path d="M332.5 420.8L375.2 401.7"/>
<path d="M335.8 414L374.6 396.6"/>
<path d="M338.1 421.9L375.7 405.6"/>
<path d="M375.2 401.7L375.7 408.4"/>
<path d="M348.2 412.4L349.3 418"/>
<path d="M375.7 408.4C374.9 408.8 372.6 410 370.7 410.7C368.7 411.3 366.2 411.7 363.9 412.4C361.7 413 358.7 413.5 357.2 414.6C355.7 415.7 355.3 417.8 354.9 419.1C354.6 420.4 354.9 421.9 354.9 422.5"/>
<path d="M369.6 411.2C368.2 411.8 363.3 413.3 361.7 414.6C360.1 415.9 360.1 417.8 360 419.1C359.9 420.4 360.7 421.9 360.8 422.5"/>
<path d="M370.7 411.2C370.5 412.2 369.4 414.6 369.6 416.9C369.7 419.1 370.7 421.9 371.8 424.7C372.9 427.5 375.5 432.2 376.3 433.7"/>
<path d="M338.1 448.3C337.4 448.5 335.1 448.7 334.2 449.4C333.2 450.2 332.5 451.1 332.5 452.8C332.5 454.5 333 456.7 334.2 459.6C335.3 462.4 337.4 465.9 339.2 469.7C341 473.4 342.8 478.1 344.8 482C346.9 486 349.1 490.1 351.6 493.3C354 496.4 356.6 498.9 359.4 501.1C362.2 503.4 365.1 505.2 368.4 506.7C371.8 508.3 377.8 509.7 379.7 510.3"/>
<path d="M348.8 452.8C347.9 453.4 344.9 454.9 343.7 456.2C342.5 457.5 341.5 458.8 341.5 460.7C341.5 462.5 342.6 464.4 343.7 467.4C344.8 470.4 346.5 474.9 348.2 478.7C349.9 482.4 351.8 486.7 353.8 489.9C355.9 493.1 357.9 495.5 360.6 497.8C363.2 500 366 501.8 369.6 503.4C373.1 505 378 506.7 381.9 507.3C385.8 507.9 387.5 508.7 393.1 506.7C398.8 504.8 411.9 497.4 415.6 495.5"/>
<path d="M354.9 460.7C354.2 461 351.4 461.8 350.4 462.9C349.5 464 349.1 465.4 349.3 467.4C349.5 469.5 350.4 472.3 351.6 475.3C352.7 478.3 354.4 482.4 356.1 485.4C357.8 488.4 359.4 491 361.7 493.3C363.9 495.5 366.6 497.3 369.6 498.9C372.5 500.5 378 502.2 379.7 502.8"/>
<path d="M368.6 463.7A3.6 5.4 -5 1 1 361.5 464.4A3.6 5.4 -5 1 1 368.6 463.7Z"/>
<path d="M357.2 456.2C357.1 457.3 356.4 460.7 356.6 462.9C356.8 465.2 357.3 467.9 358.3 469.7C359.3 471.4 361.1 472.9 362.8 473.6C364.5 474.3 366.7 474.1 368.4 473.6C370.1 473.1 369.3 472.7 372.9 470.8C376.5 468.9 387.2 463.8 390 462.4"/>
<path d="M354.4 454.5L359.4 455.1"/>
<path d="M357.2 454.5L356.1 460.7"/>
<path d="M362.8 451.7C363.7 451.5 366.4 450.6 368.4 450.6C370.5 450.6 373.3 451.7 375.2 451.7C377 451.7 378.2 450.4 379.7 450.6C381.2 450.7 382.7 452.1 384.2 452.8C385.7 453.6 387.2 455.1 388.7 455.1C390.1 455.1 391.6 453.3 393.1 452.8C394.6 452.3 396.9 452.3 397.6 452.2"/>
<path d="M388.7 462.9C388.7 464 388.1 467.2 388.7 469.7C389.2 472.1 390.3 475.3 392 477.5C393.7 479.8 396.3 482 398.8 483.1C401.2 484.3 403.8 484.3 406.6 484.3C409.4 484.3 414.1 483.3 415.6 483.1"/>
<path d="M393.7 462.9C393.7 463.9 393.1 466.5 393.7 468.5C394.3 470.6 395.5 473.4 397.1 475.3C398.7 477.2 400.9 478.8 403.3 479.8C405.6 480.7 409.8 480.7 411.1 480.9"/>
<path d="M398.8 461.2C399 462.3 399.1 465.4 399.9 467.4C400.6 469.4 401.8 471.5 403.3 473C404.8 474.5 406.8 475.7 408.9 476.4C410.9 477.2 414.5 477.3 415.6 477.5"/>
<path d="M397.6 452.2C398 453.1 399 455.1 399.9 457.3C400.8 459.5 401.9 462.9 403.3 465.2C404.6 467.4 405.7 469.3 407.8 470.8C409.8 472.3 414.3 473.6 415.6 474.2"/>
<path d="M415.4 407.9L415.4 510.7"/>
<path d="M415.4 495.5L420.7 493.3"/>
</g>
<clipPath id="cp-hr"><path clip-rule="evenodd" d="M420 380H480V460H420Z"/></clipPath>
<g class="ln" id="hr" clip-path="url(#cp-hr)">
<path d="M457.1 401.3C458.4 401.4 462.9 401.3 464.9 401.9C467 402.5 468.1 403.1 469.4 404.7C470.7 406.3 472.1 408.7 472.8 411.5C473.6 414.3 473.7 419.9 473.9 421.6"/>
<path d="M472.8 423.8C473.3 424.8 475 427 475.6 429.4C476.3 431.9 476.6 435.6 476.7 438.4C476.8 441.2 476.8 444 476.2 446.3C475.5 448.5 473.4 451 472.8 451.9"/>
<path d="M472.8 451.9C471.5 452.8 467.2 456.4 464.9 457.5C462.7 458.7 460.3 458.7 459.3 458.9"/>
<path d="M426.7 418.8L458.2 401.3"/>
<path d="M436.9 440.7L472.8 421.6"/>
<path d="M418.9 422.7L426.7 418.8"/>
<path d="M418.9 449.7L436.9 440.7"/>
<path d="M439.1 413.7C440 414.3 443 415.2 444.7 417.1C446.4 419 448.3 422.5 449.2 424.9C450.1 427.4 450.1 430.6 450.3 431.7"/>
<path d="M444.7 412.6C445.5 413.1 447.9 414.3 449.2 416C450.5 417.6 451.8 420.4 452.6 422.7C453.3 424.9 453.5 428.3 453.7 429.4"/>
<path d="M431.2 417.1C432.2 417.6 435.2 418.6 436.9 420.4C438.5 422.3 440.4 425.7 441.3 428.3C442.3 430.9 442.3 434.9 442.5 436.2"/>
<path d="M426.7 424.9C427.7 425.5 430.9 426.4 432.4 428.3C433.9 430.2 435.2 434.9 435.7 436.2"/>
<path d="M457.1 408.1C457.8 408.7 460.3 410 461.6 411.5C462.9 413 464.4 416.1 464.9 417.1"/>
<path d="M459.3 405.8C460.3 406.4 463.4 407.5 464.9 409.2C466.4 410.9 467.6 413.7 468.3 416C469.1 418.2 469.3 421.6 469.4 422.7"/>
<path d="M418.9 428.3C419.8 429.1 423.2 430.7 424.5 432.8C425.8 434.9 426.7 438.6 426.7 440.7C426.7 442.7 424.9 444.4 424.5 445.2"/>
<path d="M418.9 433.9C419.4 434.7 421.5 436.9 422.2 438.4C423 439.9 423.2 442.2 423.4 442.9"/>
<path d="M442.5 393.5L448.1 405.8"/>
<path d="M452.6 383.4L458.2 396.9"/>
<path d="M454.8 378.9L467.2 398"/>
<path d="M440.2 392.4L452.6 386.7"/>
<path d="M451.5 432.8C453.3 432.2 459.7 429.4 462.7 429.4C465.7 429.4 467.9 431.1 469.4 432.8C470.9 434.5 471.7 437.1 471.7 439.6C471.7 442 470.9 445.4 469.4 447.4C467.9 449.4 464.8 451 462.7 451.3C460.6 451.7 458 449.9 457.1 449.7"/>
<path d="M448.1 442.9C448.5 443.7 449 446.5 450.3 447.4C451.6 448.4 455 448.4 456 448.5"/>
<path d="M444.9 441.2C444.3 441.3 442.1 441 441.3 441.8C440.6 442.6 440 445.1 440.2 446.3C440.4 447.5 441.5 448.7 442.5 449.1C443.4 449.5 445.5 448.8 446.1 448.8"/>
<path d="M452.6 436.2L453.7 440.7"/>
<path d="M458.2 431.7L460.4 437.3"/>
<path d="M448.1 453.6C447.5 454.1 445.5 455.2 444.7 456.4C444 457.6 443.4 459.6 443.6 460.9C443.8 462.2 444.7 463.7 445.8 464.3C447 464.8 448.1 464.8 450.3 464.3C452.6 463.7 457.8 461.5 459.3 460.9"/>
<path d="M449.2 455.3C450 455.1 452.2 453.6 453.7 454.2C455.2 454.7 457.5 457.9 458.2 458.7"/>
<path d="M472.8 453L477.3 462L464.9 468.2L461.6 464.3"/>
<path d="M459.3 460.9L462.7 467.6"/>
<path d="M442.5 466.5C441.5 467.6 439.5 471.2 436.9 473.3C434.2 475.3 429.7 477.6 426.7 478.9C423.7 480.2 420.2 480.7 418.9 481.1"/>
<path d="M439.1 447.4C439.3 448.5 440.6 451.9 440.2 454.2C439.9 456.4 438.4 459 436.9 460.9C435.4 462.8 433.3 464.3 431.2 465.4C429.2 466.5 425.6 467.3 424.5 467.6"/>
<path d="M424.5 449.7L431.2 460.9"/>
<path d="M468.3 378.9L481.2 408.1L503.7 397.4"/>
<path d="M431.2 397.2A4.5 5.8 -10 1 1 422.3 398.8A4.5 5.8 -10 1 1 431.2 397.2Z"/>
<path d="M424.5 383.4C425.6 383.7 429.2 384.1 431.2 385.6C433.3 387.1 435.7 389.6 436.9 392.4C438 395.2 438.4 399.7 438 402.5C437.6 405.3 436.5 407.7 434.6 409.2C432.7 410.7 429.4 411.6 426.7 411.7C424.1 411.7 420.2 409.8 418.9 409.4"/>
<path d="M431.2 385.6L442.5 381.1"/>
</g>
<clipPath id="cp-k1"><path clip-rule="evenodd" d="M0 0H979V1280H0ZM330 770V910H470V770Z"/></clipPath>
<g class="ln" id="k1" clip-path="url(#cp-k1)">
<path d="M291.7 717L291.7 756"/>
<path d="M351.6 701L351.6 741"/>
<path d="M328.1 735C328.8 734.9 330.5 733.7 332.1 734C333.8 734.4 336.1 736 338.1 737C340.1 738 341.8 739.3 344.1 740C346.5 740.8 349.5 740.8 352.2 741.6C354.8 742.5 357.5 743.3 360.2 745C362.8 746.8 365.5 749.5 368.2 752C370.8 754.5 373.5 757.7 376.2 760.1C378.8 762.4 381.8 764.4 384.2 766.1C386.5 767.7 388 768.2 390.2 770.1C392.4 771.9 396 775.9 397.2 777.1"/>
<path d="M336.6 741.4A3 4.4 -20 1 1 330.9 743.5A3 4.4 -20 1 1 336.6 741.4Z"/>
<path d="M328.1 735C328 736.2 327.5 739.5 327.1 742C326.8 744.5 326.6 747.3 326.1 750C325.6 752.8 324.5 757 324.1 758.4"/>
<path d="M332.1 759C332.8 757.9 334.5 753.9 336.1 752C337.8 750.2 339.8 748.9 342.1 748C344.5 747.2 347.5 746.7 350.2 747C352.8 747.4 355.5 748.2 358.2 750C360.8 751.9 363.5 755.4 366.2 758C368.8 760.7 371.5 763.7 374.2 766.1C376.8 768.4 380.8 771.1 382.2 772.1"/>
<path d="M389.3 773.8A3 4.4 -25 1 1 383.9 776.3A3 4.4 -25 1 1 389.3 773.8Z"/>
<path d="M280.1 765.1C280.7 764.6 282.1 763.8 284.1 762.5C286.1 761.1 289.8 758.6 292.1 757C294.4 755.5 296.1 753.7 298.1 753C300.1 752.4 301.8 752.2 304.1 753C306.4 753.9 309.4 757 312.1 758C314.8 759 317.5 758.4 320.1 759C322.8 759.7 325.5 760.6 328.1 762.1C330.8 763.6 333.5 765.7 336.1 768.1C338.8 770.4 341.5 773.4 344.1 776.1C346.8 778.7 349.8 781.7 352.2 784.1C354.5 786.4 356.5 787.7 358.2 790.1C359.8 792.4 361.2 795.4 362.2 798.1C363.2 800.8 362.8 802.8 364.2 806.1C365.5 809.4 367.5 813.4 370.2 818.1C372.8 822.8 375.7 827.3 380.2 834.1C384.7 841 394.4 855 397.2 859.1"/>
<path d="M287.3 769.3A3.4 5 -20 1 1 280.9 771.6A3.4 5 -20 1 1 287.3 769.3Z"/>
<path d="M280.1 765.1C279.8 765.9 278.5 768.1 278.5 770.1C278.5 772.1 279.1 775.4 280.1 777.1C281 778.7 282.6 779.9 284.1 780.1C285.6 780.2 287.6 778.9 289.1 778.1C290.6 777.2 292.6 775.6 293.3 775.1"/>
<path d="M280.1 777.1C280.2 778.2 281.7 782.4 281.1 784.1C280.4 785.7 277.9 786.7 276.1 787.1C274.2 787.4 271.1 786.2 270.1 786.1"/>
<path d="M277.3 793.9A4.4 5.6 -15 1 1 268.8 796.2A4.4 5.6 -15 1 1 277.3 793.9Z"/>
<path d="M275.4 794.5A2.4 3.2 -15 1 1 270.8 795.7A2.4 3.2 -15 1 1 275.4 794.5Z"/>
<path d="M269.1 787.1C268.7 788.2 267.1 791.7 267.1 794.1C267.1 796.4 267.7 799.6 269.1 801.1C270.4 802.6 273.2 803.6 275.1 803.3C276.9 803 279.2 799.8 280.1 799.1"/>
<path d="M254.6 802.8A3.8 5.6 -20 1 1 247.5 805.4A3.8 5.6 -20 1 1 254.6 802.8Z"/>
<path d="M247.2 813.9A3.4 5 -20 1 1 240.8 816.3A3.4 5 -20 1 1 247.2 813.9Z"/>
<path d="M269.9 815.1A3 5 -20 1 1 264.2 817.1A3 5 -20 1 1 269.9 815.1Z"/>
<path d="M247 798.1L270.1 786.1"/>
<path d="M247 798.1L251.1 810.1L266.1 806.1"/>
<path d="M260.1 796.1L264.1 810.1"/>
<path d="M239 819.1L239 830.1L224 836.1L229 854.1L215 866.2L228 882.2L232 888.2"/>
<path d="M224 836.1L238 828.5L242 840.1L228 838.1"/>
<path d="M226 856.1C226.4 858.5 227 865.5 228 870.2C229 874.8 230 879.2 232 884.2C234 889.2 237.4 894.9 240 900.2C242.7 905.5 246 911.2 248 916.2C250.1 921.2 251 926.5 252.1 930.2C253.1 933.9 252.5 936.1 254.5 938.2C256.5 940.4 262.5 942.4 264.1 943.2"/>
<path d="M239 819.1L243 814.1"/>
<path d="M326.5 926.6A60.1 40 66 1 1 277.7 816.9A60.1 40 66 1 1 326.5 926.6Z"/>
<path d="M324.9 923A56.1 36.4 66 1 1 279.3 820.6A56.1 36.4 66 1 1 324.9 923Z"/>
<path d="M314.9 895.7A29 22.4 66 1 1 291.3 842.6A29 22.4 66 1 1 314.9 895.7Z"/>
<path d="M313.9 893.3A26.4 20 66 1 1 292.4 845A26.4 20 66 1 1 313.9 893.3Z"/>
<path d="M316 887.2A22.4 16 66 0 1 293 849.1"/>
<path d="M313.8 885.5A19 13.2 66 0 1 295.5 852.8"/>
<path d="M312.8 882.9A16 11 66 0 1 298.5 855.5"/>
<path d="M264.1 846.1L275.1 839.1L270.1 854.1L264.1 846.1"/>
<path d="M302.1 831.1L304.1 839.1"/>
<path d="M302.1 831.1L308.1 834.1"/>
<path d="M280.1 824.1L284.1 838.1"/>
<path d="M277.1 828.5L288.1 826.1"/>
<path d="M301.1 902.2L304.1 912.2L320.1 906.2"/>
<path d="M301.1 902.2L308.1 905.4"/>
<path d="M322.1 904.2L328.1 916.2"/>
<path d="M320.1 908.6L332.1 904.2"/>
<path d="M331.1 886.2L338.1 888.6"/>
<path d="M268.1 858.1L280.1 886.2"/>
<path d="M320.1 850.1L328.1 862.2"/>
<path d="M337.8 826A5 6.4 -20 1 1 328.4 829.4A5 6.4 -20 1 1 337.8 826Z"/>
<path d="M335.8 826.8A2.8 3.6 -20 1 1 330.5 828.7A2.8 3.6 -20 1 1 335.8 826.8Z"/>
<path d="M326.1 824.1C326.5 823.4 326.8 820.9 328.1 820.1C329.5 819.3 332.3 818.6 334.1 819.1C336 819.6 338.1 821.3 339.1 823.1C340.1 824.9 340.4 828 340.1 830.1C339.8 832.3 337.8 835.1 337.3 836.1"/>
<path d="M335.1 852A3.2 4 -20 1 1 329.1 854.2A3.2 4 -20 1 1 335.1 852Z"/>
<path d="M340 849.5A2 2.8 -20 1 1 336.3 850.8A2 2.8 -20 1 1 340 849.5Z"/>
<path d="M267.8 891.2A4 4.8 -20 1 1 260.3 894A4 4.8 -20 1 1 267.8 891.2Z"/>
<path d="M260.3 890.4A2.4 3.2 -20 1 1 255.8 892A2.4 3.2 -20 1 1 260.3 890.4Z"/>
<path d="M266.4 898A3.6 2.6 -20 1 1 259.7 900.4A3.6 2.6 -20 1 1 266.4 898Z"/>
<path d="M334.7 927.7A3 4 -30 1 1 329.5 930.7A3 4 -30 1 1 334.7 927.7Z"/>
<path d="M347.5 941.5A3.4 5.6 -30 1 1 341.6 944.9A3.4 5.6 -30 1 1 347.5 941.5Z"/>
<path d="M336.1 922.2C336.8 923.5 338.1 927.9 340.1 930.2C342.1 932.6 346.1 933.9 348.1 936.2C350.2 938.6 352 941.7 352.2 944.2C352.3 946.7 350.7 950.2 349.1 951.2C347.6 952.2 345 951.7 343.1 950.2C341.3 948.7 340 944.9 338.1 942.2C336.3 939.6 333.8 936.5 332.1 934.2C330.5 932 328.8 929.6 328.1 928.6"/>
<path d="M340.1 838.1C342.1 840.8 348.1 848.8 352.2 854.1C356.2 859.5 360.5 865.5 364.2 870.2C367.8 874.8 371.5 878.2 374.2 882.2C376.8 886.2 377.8 889.8 380.2 894.2C382.5 898.5 385.4 903.7 388.2 908.2C391 912.7 395.7 919 397.2 921.2"/>
<path d="M351.2 801.1L360.2 822.1L397.2 851.1"/>
<path d="M352.2 804.1L397.2 839.1"/>
<path d="M359.2 826.1L364.2 838.1L397.2 863.2"/>
<path d="M340 802.7A3 4.4 -20 1 1 334.3 804.7A3 4.4 -20 1 1 340 802.7Z"/>
<path d="M318.1 775.1L340.1 794.1"/>
<path d="M315.1 779.1L336.1 798.1"/>
<path d="M318.1 775.1L325.1 770.1"/>
<path d="M315.1 779.1L317.1 786.1L332.1 808.1L344.1 812.5L340.1 794.1"/>
<path d="M300.1 759C301.1 760.2 303.1 764.2 306.1 766.1C309.1 767.9 316.1 769.4 318.1 770.1"/>
<path d="M296.1 758L304.1 770.1L312.1 772.5"/>
<path d="M394.8 880.5A3.8 5.6 -20 1 1 387.6 883.1A3.8 5.6 -20 1 1 394.8 880.5Z"/>
<path d="M374.2 882.2L388.2 874.6"/>
<path d="M381.2 874.6C381.7 873.8 381.5 871.2 384.2 870.2C386.9 869.1 395 868.5 397.2 868.2"/>
<path d="M220 919.2L286.1 881.2"/>
<path d="M220 919.2L264.1 943.2"/>
<path d="M245 962.7L269.1 949.2"/>
<path d="M298.8 811.7A2.2 3.6 -20 1 1 294.6 813.3A2.2 3.6 -20 1 1 298.8 811.7Z"/>
<path d="M277.5 921.7A2.6 4.4 -20 1 1 272.6 923.5A2.6 4.4 -20 1 1 277.5 921.7Z"/>
<path d="M325 949.4A2.6 4.4 -20 1 1 320.1 951.1A2.6 4.4 -20 1 1 325 949.4Z"/>
</g>
<clipPath id="cp-k2"><path clip-rule="evenodd" d="M0 0H979V1280H0ZM330 770V910H420V770ZM420 822V910H470V822Z"/></clipPath>
<g class="ln" id="k2" clip-path="url(#cp-k2)">
<path d="M448.7 714L448.7 754"/>
<path d="M466.4 779.7A22.4 33.6 -22 1 1 424.9 796.5A22.4 33.6 -22 1 1 466.4 779.7Z"/>
<path d="M464.2 780.6A20 30.6 -22 1 1 427.1 795.6A20 30.6 -22 1 1 464.2 780.6Z"/>
<path d="M459 782.7A14.4 22.4 -22 1 1 432.3 793.5A14.4 22.4 -22 1 1 459 782.7Z"/>
<path d="M456.8 783.3A11.6 18.4 -22 1 1 435.3 792A11.6 18.4 -22 1 1 456.8 783.3Z"/>
<path d="M451.3 801.4A9 15 -22 0 1 440.3 774"/>
<path d="M440.4 754.4C442.4 754.5 448.1 753.7 452.1 755C456 756.4 460.4 758.8 464.1 762.5C467.7 766.1 471.7 772.1 474.1 777.1C476.5 782 477.9 787.2 478.5 792.1C479.1 796.9 478.6 802.7 477.7 806.1C476.8 809.5 475 810.7 473.1 812.5C471.1 814.3 467.2 816.3 466.1 817.1"/>
<path d="M428 768.1L433 772.1"/>
<path d="M436 762.5L438.4 768.5"/>
<path d="M445 760.1L446.1 766.1"/>
<path d="M426 778.1L431.6 780.1"/>
<path d="M426 790.1L431.6 789.7"/>
<path d="M430 801.1L435 798.1"/>
<path d="M437 810.1L440.4 805.7"/>
<path d="M446.1 815.1L447.7 809.7"/>
<path d="M456.1 814.1L455.1 808.5"/>
<path d="M463.1 806.1L459.7 802.5"/>
<path d="M466.1 796.1L461.7 794.1"/>
<path d="M464.1 784.1L460.1 784.5"/>
<path d="M460.1 774.1L457.1 777.1"/>
<path d="M454.1 765.7L452.5 770.1"/>
<path d="M495.1 743L503.1 739.6"/>
<path d="M394 784.5C396.3 787.7 403.3 797.5 408 804.1C412.7 810.7 417.4 817.8 422 824.1C426.7 830.5 432.7 838.1 436 842.1C439.4 846.1 440.4 846.8 442 848.1C443.7 849.5 445 848.8 446.1 850.1C447.1 851.5 447.8 853.5 448.5 856.1C449.1 858.8 448.8 862.2 450.1 866.2C451.3 870.2 453.9 875.5 456.1 880.2C458.2 884.8 460.9 890.5 463.1 894.2C465.2 897.9 467.6 899.9 469.1 902.2C470.6 904.5 471.8 906.2 472.1 908.2C472.3 910.2 470.5 911.9 470.5 914.2C470.5 916.5 472.1 919.8 472.1 922.2C472.1 924.6 471.6 927.1 470.5 928.6C469.3 930.1 466.8 929.6 465.1 931.2C463.3 932.8 462.2 936.1 460.1 938.2C457.9 940.4 454.9 942.6 452.1 944.2C449.2 945.9 444.5 947.6 443 948.2"/>
<path d="M394 789.7C396.3 793.1 403.3 803.4 408 810.1C412.7 816.8 417.7 824.1 422 830.1C426.4 836.1 431.5 842.1 434 846.1C436.5 850.1 436.2 852.1 437 854.1C437.9 856.1 437.9 855.8 439 858.1C440.2 860.5 442.2 864.5 444 868.2C445.9 871.8 448.1 875.8 450.1 880.2C452.1 884.5 454.4 889.8 456.1 894.2C457.7 898.5 459.1 901.9 460.1 906.2C461.1 910.5 462.1 916.2 462.1 920.2C462.1 924.2 461.4 927.2 460.1 930.2C458.7 933.2 456.4 936.1 454.1 938.2C451.7 940.4 447.4 942.4 446.1 943.2"/>
<path d="M445.1 851.7A3.4 4.4 -25 1 1 439 854.6A3.4 4.4 -25 1 1 445.1 851.7Z"/>
<path d="M468.9 904.2A3 4.2 -20 1 1 463.2 906.2A3 4.2 -20 1 1 468.9 904.2Z"/>
<path d="M469.3 919.6A3 4.2 -20 1 1 463.6 921.6A3 4.2 -20 1 1 469.3 919.6Z"/>
<path d="M394 846.5L404 856.1L416 866.2"/>
<path d="M416 866.2C416.4 867.8 416.4 872.2 418 876.2C419.7 880.2 423.4 885.2 426 890.2C428.7 895.2 431.9 901.2 434 906.2C436.2 911.2 437.7 915.9 439 920.2C440.4 924.5 441.7 927.9 442 932.2C442.4 936.6 441.4 943.9 441.2 946.2"/>
<path d="M410 876.2C409.8 877.5 408.3 881.2 409 884.2C409.7 887.2 411.8 889.8 414 894.2C416.2 898.5 419.7 905.5 422 910.2C424.4 914.9 426.2 918.5 428 922.2C429.9 925.9 432 928.9 433 932.2C434 935.6 433.9 940.6 434 942.2"/>
<path d="M410 876.2L412 882.2"/>
<path d="M394 866.2C395 866.5 398.7 867.4 400 868.2C401.3 868.9 401.7 870.2 402 870.6"/>
<path d="M426 924.2L431 925.4L433 932.2L429 936.6Z"/>
<path d="M394 878.2C394.8 879.2 398.3 881.5 399 884.2C399.7 886.8 398.2 892.5 398 894.2"/>
<path d="M394 918.2L400 930.2L401 942.2"/>
<path d="M420.5 947.6A4.8 6 -20 1 1 411.5 950.9A4.8 6 -20 1 1 420.5 947.6Z"/>
<path d="M401 947.2C401.8 946.4 404 943.4 406 942.2C408 941.1 411.8 940.6 413 940.2"/>
<path d="M400 956.6L442 944.2"/>
</g>
<g class="ln" id="k3">
<path d="M283.7 951.5A8.4 10 -25 1 1 268.5 958.6A8.4 10 -25 1 1 283.7 951.5Z"/>
<path d="M282.1 965L348.2 1002.1"/>
<path d="M323.1 1002.1L387.2 966.4"/>
<path d="M244.2 968.1A20.4 27.2 -20 1 1 205.8 982A20.4 27.2 -20 1 1 244.2 968.1Z"/>
<path d="M242.4 969.5A18 24.8 -20 1 1 208.5 981.8A18 24.8 -20 1 1 242.4 969.5Z"/>
<path d="M236.1 970.1A12.8 19.2 -20 1 1 212 978.8A12.8 19.2 -20 1 1 236.1 970.1Z"/>
<path d="M233.1 987.2A10.4 16.8 -20 1 1 223.1 959.8"/>
<path d="M226.2 1001.1L226.2 1040.1"/>
<path d="M287.1 1019.1L316.1 1002.1"/>
<path d="M292.1 1030.1L321.1 1011.1"/>
<path d="M307.1 1007.1C307.6 1007.9 309.3 1010.5 310.1 1012.1C311 1013.7 311.8 1015.8 312.1 1016.5"/>
<path d="M311.1 1004.5C311.6 1005.3 313.3 1008 314.1 1009.7C315 1011.3 315.8 1013.7 316.1 1014.5"/>
<path d="M315.1 1002.5C315.6 1003.2 317.3 1005.5 318.1 1007.1C319 1008.7 319.8 1011.2 320.1 1012.1"/>
<path d="M316.1 1002.1C316.8 1002.2 319.1 1002.2 320.1 1003.1C321.1 1003.9 322 1005.7 322.1 1007.1C322.3 1008.4 321.3 1010.4 321.1 1011.1"/>
<path d="M267.1 1025.1L273.1 1020.1L280.1 1021.1L284.1 1030.1L282.1 1038.1L273.1 1040.1L268.1 1034.1L267.1 1025.1"/>
<path d="M273.1 1020.1L276.5 1026.5L284.1 1030.1"/>
<path d="M276.5 1026.5L273.1 1040.1"/>
<path d="M274.1 1018.1C275.1 1017.8 278.1 1016.1 280.1 1016.1C282.1 1016.1 284.4 1016.8 286.1 1018.1C287.8 1019.4 289.3 1021.8 290.1 1024.1C290.9 1026.4 291.4 1029.9 291.1 1032.1C290.8 1034.3 289.6 1035.9 288.1 1037.1C286.6 1038.3 283.1 1038.9 282.1 1039.3"/>
<path d="M301.5 1023.1L301.5 1061.1"/>
<path d="M347.5 941.9A3.4 5 -30 1 1 341.6 945.3A3.4 5 -30 1 1 347.5 941.9Z"/>
<path d="M330.1 928C330.8 929.3 332.5 933.7 334.1 936C335.8 938.3 338.5 939.7 340.2 942C341.8 944.3 342.5 948.5 344.2 950C345.8 951.6 348.8 951.9 350.2 951.2C351.5 950.6 352.2 948.2 352.2 946C352.2 943.8 351.5 940.3 350.2 938C348.8 935.7 345.8 933.7 344.2 932C342.5 930.3 340.8 928.7 340.2 928"/>
<path d="M325 948.9A2.2 3.8 -30 1 1 321.2 951.1A2.2 3.8 -30 1 1 325 948.9Z"/>
<path d="M336.1 934L342.2 940"/>
<path d="M342.2 934L337.1 940"/>
<path d="M387.2 978C385 978.4 377.5 978.9 374.2 980.1C370.8 981.2 368.7 982.7 367.2 985.1C365.7 987.4 365 991.1 365.2 994.1C365.3 997.1 366.7 1000.9 368.2 1003.1C369.7 1005.3 373.2 1006.6 374.2 1007.3"/>
<path d="M371.9 998.3A2.8 4.4 -15 1 1 366.5 999.8A2.8 4.4 -15 1 1 371.9 998.3Z"/>
<path d="M351.2 999.1C351.7 998.6 352.7 996.7 354.2 996.1C355.7 995.4 358.3 994.7 360.2 995.1C362 995.4 364.5 997.6 365.4 998.1"/>
<path d="M348.2 1002.1L352.2 1000.1"/>
<path d="M382.2 990.1L382.2 1002.1L387.2 1003.3"/>
<path d="M378.2 1004.5L374.2 1007.3"/>
</g>
<g class="ln" id="k4">
<path d="M521.1 1010.1L544.2 1000.5"/>
<path d="M524.1 1020.1L547.2 1010.1"/>
<path d="M521.1 1010.1C520.6 1010.6 518.2 1011.7 517.7 1013.1C517.2 1014.4 517.1 1016.9 518.1 1018.1C519.2 1019.3 523.1 1019.8 524.1 1020.1"/>
<path d="M544.2 1000.5C544.8 1000.7 547 1001 547.8 1002.1C548.5 1003.2 548.7 1005.7 548.6 1007.1C548.5 1008.4 547.4 1009.6 547.2 1010.1"/>
<path d="M524.5 1008.9C524.1 1009.7 522 1012.3 522.1 1014.1C522.3 1015.8 524.8 1018.4 525.3 1019.3"/>
<path d="M529.3 1007.1C529 1007.9 527 1010.3 527.1 1012.1C527.2 1013.8 529.5 1016.6 529.9 1017.5"/>
<path d="M535.3 1004.5C535 1005.3 533 1007.9 533.1 1009.7C533.2 1011.4 535.5 1014.2 535.9 1015.1"/>
<path d="M539.4 1002.9C539 1003.7 537.3 1006.3 537.4 1008.1C537.5 1009.8 539.5 1012.4 540 1013.3"/>
<path d="M433.7 970.2A11 14 -15 1 1 412.4 975.9A11 14 -15 1 1 433.7 970.2Z"/>
<path d="M430.2 970.9A8.4 11.6 -15 1 1 413.9 975.2A8.4 11.6 -15 1 1 430.2 970.9Z"/>
<path d="M427.4 971.5A6 9 -15 1 1 415.8 974.6A6 9 -15 1 1 427.4 971.5Z"/>
<path d="M419 968L424 973L421 979"/>
<path d="M401 960C400.7 961.7 398.8 966.4 399 970C399.2 973.7 400.2 979 402 982.1C403.9 985.1 407.4 987 410 988.1C412.7 989.1 416.7 988.4 418 988.5"/>
<path d="M401 960L417 958"/>
<path d="M412 938C410.7 938.3 406.2 938.5 404 940C401.8 941.5 399.7 944.5 399 947C398.3 949.5 398.8 953 400 955C401.2 957.1 405 958.5 406 959.2"/>
<path d="M416 944C417 944.5 420.9 945.7 422 947C423.2 948.4 423.5 950.5 423 952C422.5 953.5 419.7 955.4 419 956"/>
<path d="M414 946C414.7 946.3 417.5 947 418 948C418.5 949 417.2 951.4 417 952"/>
<path d="M384 967.6L442.1 945"/>
<path d="M442.1 948C443.7 947.7 449.1 947.7 452.1 946C455.1 944.3 458.2 941 460.1 938C461.9 935 462.6 929.7 463.1 928"/>
<path d="M426 928L434 940L440.1 928"/>
<path d="M412 938C411.7 937.3 410.2 935.7 410 934C409.9 932.3 410.9 929 411 928"/>
<path d="M440.1 930C440.4 931.7 441.6 937.2 442.1 940C442.6 942.8 442.9 945.8 443.1 947"/>
<path d="M384 990.1L401 988.1L400 994.1L384 1001.3"/>
<path d="M384 976.4C385.7 976 391.3 975.8 394 974C396.7 972.3 399 967.4 400 966"/>
</g>
<clipPath id="cp-km"><path clip-rule="evenodd" d="M330 770H470V910H330ZM420 770V822H470V770Z"/></clipPath>
<g class="ln" id="km" clip-path="url(#cp-km)">
<path d="M391.5 774.3C392 775.5 393.2 778.6 394.4 781.4C395.5 784.3 396 787.4 398.6 791.5C401.3 795.5 406 800.5 410.1 805.8C414.1 811 419.1 817.9 423 822.9C426.8 827.9 430.1 832.2 433 835.8C435.8 839.4 438.2 842.3 440.1 844.4C442 846.4 443.7 847.3 444.4 847.9"/>
<path d="M445.8 850.1C446.3 851.5 447 854.8 448.7 858.7C450.4 862.5 453.2 867.5 455.8 873C458.5 878.4 461.9 886.3 464.4 891.6C466.9 896.8 469.8 902.3 470.9 904.4"/>
<path d="M375.8 768.6C377.2 770.7 381 776.9 384.3 781.4C387.7 786 392 791 395.8 795.7C399.6 800.5 403.4 805 407.2 810C411 815 414.8 820.5 418.7 825.8C422.5 831 427 837 430.1 841.5C433.2 846 436.1 851 437.3 852.9"/>
<path d="M440.1 857.9C441.3 860 444.6 865.2 447.3 870.1C449.9 875 453.2 881.8 455.8 887.3C458.5 892.7 461.2 899.1 463 903C464.8 906.9 466 909.5 466.6 910.9"/>
<path d="M390.4 773.5A3.6 4.6 -25 1 1 384 776.5A3.6 4.6 -25 1 1 390.4 773.5Z"/>
<path d="M445.1 851.1A3.6 4.6 -25 1 1 438.6 854.2A3.6 4.6 -25 1 1 445.1 851.1Z"/>
<path d="M469.1 903.6A3.6 5 -25 1 1 462.6 906.6A3.6 5 -25 1 1 469.1 903.6Z"/>
<path d="M337.2 768.6C338.3 770 341.4 774.8 344.3 777.2C347.2 779.5 351.7 781 354.3 782.9C356.9 784.8 358.4 786 360 788.6C361.7 791.2 362.7 794.8 364.3 798.6C366 802.4 367.4 806.7 370 811.5C372.7 816.2 376.7 822.2 380.1 827.2C383.4 832.2 387 837.4 390.1 841.5C393.2 845.6 395.3 848.2 398.6 851.5C402 854.8 407.2 858.9 410.1 861.5C412.9 864.1 414.4 864.9 415.8 867.2C417.2 869.6 417.2 872.5 418.7 875.8C420.1 879.2 422.5 883.4 424.4 887.3C426.3 891.1 428.6 894.8 430.1 898.7C431.6 902.6 432.7 908.8 433.2 910.9"/>
<path d="M351.5 800.3L353.6 808.6L359.3 819.3L400.1 869"/>
<path d="M359.3 819.3L359.7 827.9L393.6 870.8"/>
<path d="M393.6 870.8L401.5 869.4"/>
<path d="M340.5 803.1A3.6 4.6 -20 1 1 333.8 805.5A3.6 4.6 -20 1 1 340.5 803.1Z"/>
<path d="M328.6 782.2L340 795.7"/>
<path d="M340 795.7C340.6 796.9 343 800.7 343.6 802.9C344.2 805 344.2 806.9 343.6 808.6C343 810.3 340.6 812.2 340 812.9"/>
<path d="M328.6 817.9L340 812.9"/>
<path d="M337.1 828.6A4.3 5.4 -10 1 1 328.6 830.1A4.3 5.4 -10 1 1 337.1 828.6Z"/>
<path d="M335 829A2.1 2.9 -10 1 1 330.7 829.7A2.1 2.9 -10 1 1 335 829Z"/>
<path d="M328.6 821.5C329.8 821.7 333.9 821.7 335.7 822.9C337.5 824.1 338.8 826.7 339.3 828.6C339.8 830.5 339.4 832.9 338.6 834.4C337.7 835.8 335 836.7 334.3 837.2"/>
<path d="M339.3 835.8L372.9 881.5"/>
<path d="M340.6 851.6A5 6.4 -15 1 1 330.9 854.2A5 6.4 -15 1 1 340.6 851.6Z"/>
<path d="M338.2 852.3A2.6 3.4 -15 1 1 333.2 853.6A2.6 3.4 -15 1 1 338.2 852.3Z"/>
<path d="M338.6 858.7C339.3 861 341.9 868.2 342.9 873C343.8 877.7 344.3 883 344.3 887.3C344.3 891.6 343.6 894.8 342.9 898.7C342.2 902.6 340.5 908.8 340 910.9"/>
<path d="M334.3 861.5C335 863.9 337.6 871.1 338.6 875.8C339.5 880.6 340 884.3 340 890.1C340 896 338.8 907.4 338.6 910.9"/>
<path d="M328.6 884.4L335.7 888.7"/>
<path d="M332.9 883L337.2 891.6"/>
<path d="M343.6 861.5C344.3 863.9 346.9 871.1 347.9 875.8C348.8 880.6 349.3 884.3 349.3 890.1C349.3 896 348.1 907.4 347.9 910.9"/>
<path d="M396.2 880.1A4.3 5.7 -20 1 1 388.2 883A4.3 5.7 -20 1 1 396.2 880.1Z"/>
<path d="M380.1 872.2C380.5 872.8 382.2 874.3 382.9 875.8C383.6 877.4 384.1 880.6 384.3 881.5"/>
<path d="M372.9 882.3L398.6 868.7"/>
<path d="M372.9 882.3C373.4 883.6 374.3 887.9 375.8 890.1C377.2 892.4 379.6 894.6 381.5 895.8C383.4 897 385.3 897.5 387.2 897.3C389.1 897 392 894.9 392.9 894.4"/>
<path d="M384.3 897.3L392.9 910.9"/>
<path d="M395.1 891.6L397.9 895.8"/>
<path d="M410.1 876.5L408.7 883"/>
<path d="M410.1 876.5L412.9 884.4"/>
<path d="M408.7 883C409.4 884.4 410.8 887.7 412.9 891.6C415.1 895.4 419.6 902.6 421.5 905.9C423.5 909.1 424.1 910 424.7 910.9"/>
<path d="M412.9 884.4L430.1 910.9"/>
</g>
<g class="ln" id="leaders">
<path d="M382.7 509.5L382.7 608.3L572.3 520.8L572.3 430.5"/>
<path d="M572.3 373L572.3 412"/>
<path d="M525.5 450.7L525.5 542"/>
<path d="M491.2 483.8L491.2 522.5"/>
<path d="M491.2 541L491.2 558"/>
<path d="M447.2 503L447.2 542"/>
<path d="M447.2 561.5L447.2 578.3"/>
<path d="M475.5 565.3L475.5 606"/>
<path d="M494.7 749A11.2 11.2 0 1 1 472.3 749A11.2 11.2 0 1 1 494.7 749Z"/>
<path d="M816 664.7A11.2 11.2 0 1 1 793.6 664.7A11.2 11.2 0 1 1 816 664.7Z"/>
<path d="M607.2 981A11.2 11.2 0 1 1 584.8 981A11.2 11.2 0 1 1 607.2 981Z"/>
</g>
<g class="ln" id="t1">
<path d="M399.6 245L399.6 284.4"/>
<path d="M389.3 288.2L411.5 278.6"/>
<path d="M392.9 299.7L413.6 289.6"/>
<path d="M384.3 291.9C383.7 292.2 381.3 292.5 380.6 293.7C379.8 294.8 379.5 297.2 379.7 298.7C380 300.1 380.9 301.6 382.2 302.2C383.4 302.9 385.4 302.9 387.2 302.5C388.9 302.1 391.9 300.1 392.9 299.7"/>
<path d="M384.3 291.9C384 292.6 382.6 294.4 382.6 295.8C382.6 297.2 383.5 299 384.3 300.1C385.1 301.2 386.7 301.9 387.2 302.2"/>
<path d="M389.3 288.2C388.9 289 387 291.3 386.9 292.9C386.7 294.6 387.5 296.7 388.3 297.9C389.1 299.2 390.9 299.8 391.5 300.2"/>
<path d="M384.3 291.9L389.3 288.2"/>
<path d="M417.9 269.3C417.1 269.7 414.4 270.1 413.2 271.5C412 272.9 410.9 275.7 410.8 277.9C410.6 280.2 411.1 283 412.2 285.1C413.3 287.1 415.4 289.1 417.2 290.1C419 291 421.3 291 423.2 290.8C425.1 290.6 427.5 289 428.3 288.6"/>
<path d="M417.9 269.3L431.2 269.3L434.8 276.2L432.9 283.4L428.3 288.6"/>
<path d="M420.8 271.1L418.3 276.8L423.2 284.8L432.9 283.4"/>
<path d="M418.3 276.8L414.6 279.6"/>
<path d="M420.8 271.1L415.8 272.9"/>
<path d="M419.3 289.4L427.2 289.4"/>
<path d="M423.2 284.8L420.1 289.6"/>
<path d="M376.4 300.5L370 302.9"/>
</g>
<g class="ln" id="t2">
<path d="M517.5 257.2L517.5 295.1"/>
<path d="M507.2 305.1C509.4 302.8 515.5 298.4 518.6 296.2C521.7 294.1 523.8 292.6 525.8 292.2C527.7 291.8 529.2 292.2 530 293.7C530.9 295.1 531.3 298.4 530.9 300.8C530.5 303.2 529.9 305.3 527.9 308C525.8 310.6 521.3 314.7 518.6 316.5C515.9 318.3 513.5 319.1 511.5 318.8C509.4 318.6 507.4 316.6 506.4 315.1C505.4 313.6 505.3 311.3 505.4 309.7C505.6 308 505 307.3 507.2 305.1Z"/>
<path d="M510.3 306.8C512 305 516.6 301.2 518.6 300.2C520.6 299.3 521.5 300 522.3 301.1C523.1 302.1 524.5 304.4 523.5 306.5C522.4 308.6 518.1 312.3 516 313.7C513.9 315 512.1 315 510.9 314.5C509.6 314.1 508.7 312.1 508.6 310.8C508.5 309.5 508.6 308.6 510.3 306.8Z"/>
<path d="M506.9 302.9C508.7 301.5 514.8 296.4 517.9 294.4C521 292.3 523.3 290.9 525.5 290.5C527.6 290.1 529.9 291.7 530.8 291.9"/>
<path d="M524.6 294.5C524.4 295 523.1 296.4 523.2 297.2C523.3 298.1 524.8 299.3 525.2 299.7"/>
<path d="M527.5 296.8L530 297.4"/>
<path d="M518.6 296.2L524.3 306.5"/>
<path d="M560.4 232.2L560.4 272.2"/>
<path d="M568.8 279.6A6.6 7.2 0 1 1 555.6 279.6A6.6 7.2 0 1 1 568.8 279.6Z"/>
<path d="M559.5 276.8L564.6 282.8"/>
<path d="M564.9 276.8L560.6 282.8"/>
<path d="M557.2 275.8C556.9 276.4 555.6 278 555.5 279.4C555.4 280.7 556.3 282.9 556.5 283.6"/>
<path d="M543.6 284.6L555.5 280.2"/>
<path d="M545.2 291.6L557.5 286.8"/>
<path d="M543.6 284.6C543.3 285 541.8 285.6 541.5 286.5C541.2 287.4 541.1 289.2 541.8 290.1C542.4 290.9 544.6 291.4 545.2 291.6"/>
<path d="M547.2 283.6C547 284.2 546 285.7 546.1 286.8C546.1 287.9 547.2 289.6 547.5 290.2"/>
<path d="M550.1 282.5C549.9 283 548.9 284.7 548.9 285.8C549 286.9 550.1 288.6 550.3 289.2"/>
<path d="M552.9 281.5C552.7 282 551.7 283.7 551.8 284.8C551.8 285.9 553 287.5 553.2 288.1"/>
<path d="M629.4 256.5L629.4 296.5"/>
</g>
<g class="ln" id="vc">
<path d="M697.6 233L697.6 272.5"/>
<path d="M710.1 279.1C709.2 278.3 707.2 275.6 705.1 274.5C702.9 273.4 700.2 272.5 697 272.5C693.9 272.4 690.5 272.3 686 274.1C681.5 275.8 673.4 280.6 670 283.1C666.7 285.6 666.8 286.6 666 289.1C665.3 291.6 664.9 294.3 665.6 298.1C666.3 301.9 664.6 299.8 670 312.1C675.4 324.5 692.5 361 698 372.2C703.6 383.4 701.1 377.6 703.1 379.2C705.1 380.7 707.2 381.7 710.1 381.6C712.9 381.4 717.2 379.6 720.1 378.2C722.9 376.8 725.9 374 727.1 373.2"/>
<path d="M704.1 276.1C702.9 275.8 699.9 274.6 697 274.7C694.2 274.7 691.1 274.7 687 276.5C682.9 278.2 675.4 282.7 672.4 285.1C669.4 287.4 669.6 288.3 669 290.5C668.4 292.7 668.2 294.5 668.8 298.1C669.5 301.7 667.8 300.1 673 312.1C678.2 324.1 694.8 359.5 700.1 370.2C705.3 380.8 702.8 374.8 704.5 376.2C706.1 377.6 707.8 378.6 710.1 378.6C712.3 378.6 716.7 376.6 718.1 376.2"/>
<path d="M694.4 278.1C693.4 278.2 690.9 277.9 688 279.1C685.1 280.2 679.4 283.2 677 285.1C674.7 286.9 674.6 287.9 674 290.1C673.5 292.3 673.1 294.8 673.6 298.1C674.1 301.4 672.3 298.6 677 310.1C681.8 321.6 697.2 356.8 702.1 367.2C706.9 377.6 704.6 371.3 706.1 372.6C707.6 373.8 708.9 374.6 711.1 374.6C713.2 374.6 715.9 373.8 719.1 372.6C722.2 371.3 727.2 369.2 730.1 367.2C732.9 365.1 734.8 362.7 736.1 360.2C737.4 357.7 737.8 355.5 738.1 352.2C738.4 348.8 738.1 342.1 738.1 340.1"/>
<path d="M710.1 279.1C711.7 279.3 715.4 280.4 720.1 280.5C724.7 280.5 733.1 279.6 738.1 279.3C743.1 278.9 746.8 278 750.1 278.5C753.4 278.9 755.7 280.1 758.1 282.1C760.5 284.1 762.5 286.2 764.5 290.5C766.5 294.8 768.8 303.2 770.1 308.1C771.5 313 772 315.4 772.5 320.1C773 324.8 773.4 332.1 773.1 336.1C772.9 340.2 772.3 342.2 771.1 344.5C770 346.9 768.3 348.5 766.1 350.2C763.9 351.8 760.4 353.5 758.1 354.6C755.8 355.6 753.1 356.2 752.1 356.6"/>
<path d="M683 300.1L703.1 310.1"/>
<path d="M720.1 351.2L720.1 358.2"/>
<path d="M708.1 289.7L722.1 283.1"/>
<path d="M708.1 289.7L720.1 296.5"/>
<path d="M722.1 283.1C723.4 283.9 727.9 286.3 730.1 288.1C732.2 289.9 734.8 292.4 735.1 294.1C735.4 295.8 733.6 297.2 732.1 298.1C730.6 299 728.1 299.6 726.1 299.3C724.1 299 721.1 297 720.1 296.5"/>
<path d="M722.1 283.1L724.5 294.1"/>
<path d="M719.5 291A2 3.2 -20 1 1 715.8 292.4A2 3.2 -20 1 1 719.5 291Z"/>
<path d="M712.1 311.1C719.2 307 746.8 290.3 755.1 286.5C763.4 282.7 760 286.2 762.1 288.5C764.2 290.8 766.4 296.2 767.7 300.1C769.1 304 769.7 310.1 770.1 312.1"/>
<path d="M770.1 312.1L719.1 342.5"/>
<path d="M719.1 342.5C718.3 340.1 715.6 333.4 714.5 328.1C713.3 322.9 712.5 313.9 712.1 311.1"/>
<path d="M717.3 314.5L756.5 292.1"/>
<path d="M756.5 292.1C757.4 292.7 760.5 292.8 762.1 295.7C763.7 298.6 765.4 307.4 766.1 309.7"/>
<path d="M766.1 310.1L721.3 336.5"/>
<path d="M721.3 336.5C720.7 334.6 718.3 328.8 717.7 325.1C717 321.5 717.3 316.3 717.3 314.5"/>
<path d="M719.1 344.5L738.1 334.5"/>
<path d="M748.1 331.1C747.4 332 745.1 334 744.1 336.1C743.1 338.3 742.6 341.1 742.1 344.1C741.6 347.1 741.3 352.5 741.1 354.2"/>
<path d="M741.1 354.2C741.6 355.2 742.6 358.8 744.1 360.2C745.6 361.6 748.1 362.8 750.1 362.6C752.1 362.3 754.7 360 756.1 358.6C757.5 357.2 758.1 354.9 758.5 354.2"/>
<path d="M754.9 353.5A7 3.4 -15 1 1 741.3 357.2A7 3.4 -15 1 1 754.9 353.5Z"/>
<path d="M748.1 331.1L752.1 332.1L753.3 340.1L758.5 354.2"/>
<path d="M744.5 338.1L745.3 348.5"/>
<path d="M741.1 340.1L742.5 341.1"/>
<path d="M774.5 268.5A5 6 0 1 1 764.5 268.5A5 6 0 1 1 774.5 268.5Z"/>
<path d="M769.5 222L769.5 262.5"/>
<path d="M764.5 271.1L722.5 291.1"/>
<path d="M813.8 253.7L813.8 294.1"/>
<path d="M790.1 253.1L813.8 243"/>
<path d="M793.1 263.3L816.6 253.7"/>
<path d="M790.1 253.1C789.5 253.3 787 253.5 786.1 254.5C785.3 255.5 784.8 257.6 785.1 259.1C785.5 260.5 786.8 262.4 788.1 263.1C789.5 263.8 792.3 263.2 793.1 263.3"/>
<path d="M790.5 253.3C790.2 254 788.5 255.9 788.5 257.5C788.6 259 790.5 261.6 790.9 262.5"/>
<path d="M794.1 251.7C793.8 252.4 792.3 254.5 792.3 256.1C792.4 257.7 794.2 260.4 794.5 261.3"/>
<path d="M797.5 250.3C797.3 251 795.9 252.9 795.9 254.5C796 256 797.4 258.8 797.7 259.7"/>
<path d="M818.6 235.6C817.9 236.2 815.5 237.5 814.6 239C813.7 240.6 813.1 243 813.2 245C813.3 247 814 249.6 815.2 251.1C816.3 252.5 818.3 253.2 820.2 253.7C822.1 254.1 825.5 253.7 826.6 253.7"/>
<path d="M818.6 235.6L828.2 233L834.2 237L835.8 243L833.2 249.2L826.6 253.7"/>
<path d="M820.6 238L817.4 243.2L823.4 249.2L833.2 249.2"/>
<path d="M820.6 238L828.2 233"/>
<path d="M817.4 243.2L814.2 244.4"/>
</g>
<g id="labels">
<text class="tt" text-anchor="middle" transform="scale(0.91 1)" x="771.5 786.3 801.1 815.9 830.7 845.5 860.2 875.0 889.8 904.6 919.4" y="182.4">E0110-A013D</text>
<text class="lb" x="385" y="240.3">130</text>
<text class="lb" x="455.7" y="269.0">16126</text>
<text class="lb" x="493.3" y="252.7">13183</text>
<text class="lb" x="535" y="228.1">92009</text>
<text class="lb" x="605.3" y="251.8">11009</text>
<text class="lb" x="673.9" y="229.0">11022</text>
<text class="lb" x="745" y="217.9">92055</text>
<text class="lb" x="788.3" y="309.0">92150</text>
<text class="lb" x="220.4" y="401.8">92043</text>
<text class="lb" x="547.3" y="428.3">92036</text>
<text class="lb" x="495.3" y="448.5">49002A</text>
<text class="lb" x="467.5" y="539.2">92036</text>
<text class="lb" x="422.2" y="558.8">49002</text>
<text class="lb" x="315.2" y="582.3">11004</text>
<text class="lb" x="451.6" y="620.1">11008</text>
<text class="lb" x="665.4" y="517.1">92049</text>
<text class="lb" x="783.9" y="546.5">92049A</text>
<text class="lb" x="266.5" y="712.6">49015</text>
<text class="lb" x="327.4" y="697.6">11060</text>
<text class="lb" x="433.6" y="709.7">601</text>
<text class="lb" x="196.7" y="1056.8">92049B</text>
<text class="lb" x="271" y="1078.0">92150A</text>
<text class="lb" x="505.5" y="1071.9">92004</text>
<text class="lb" x="554.7" y="939.7">92043A</text>
<text class="lb" text-anchor="middle" x="636.2 646.3 656.4 666.5 676.6 686.7 696.8" y="958.9" style="letter-spacing:0">49120/A</text>
<text class="cl" x="224.3" y="494.2">A</text>
<text class="cl" x="804.8" y="669.6">A</text>
<text class="cl" x="483.5" y="753.9">B</text>
<text class="cl" x="596" y="986">B</text>
<text x="0" y="0" transform="matrix(1,-.66,.14,.99,719.3,335.4)" font-family="'Liberation Sans',sans-serif" font-weight="bold" font-size="21" letter-spacing=".3" fill="none" stroke="#000" stroke-width=".85">OHV</text>
</g>
</svg>
</body>
</html>
